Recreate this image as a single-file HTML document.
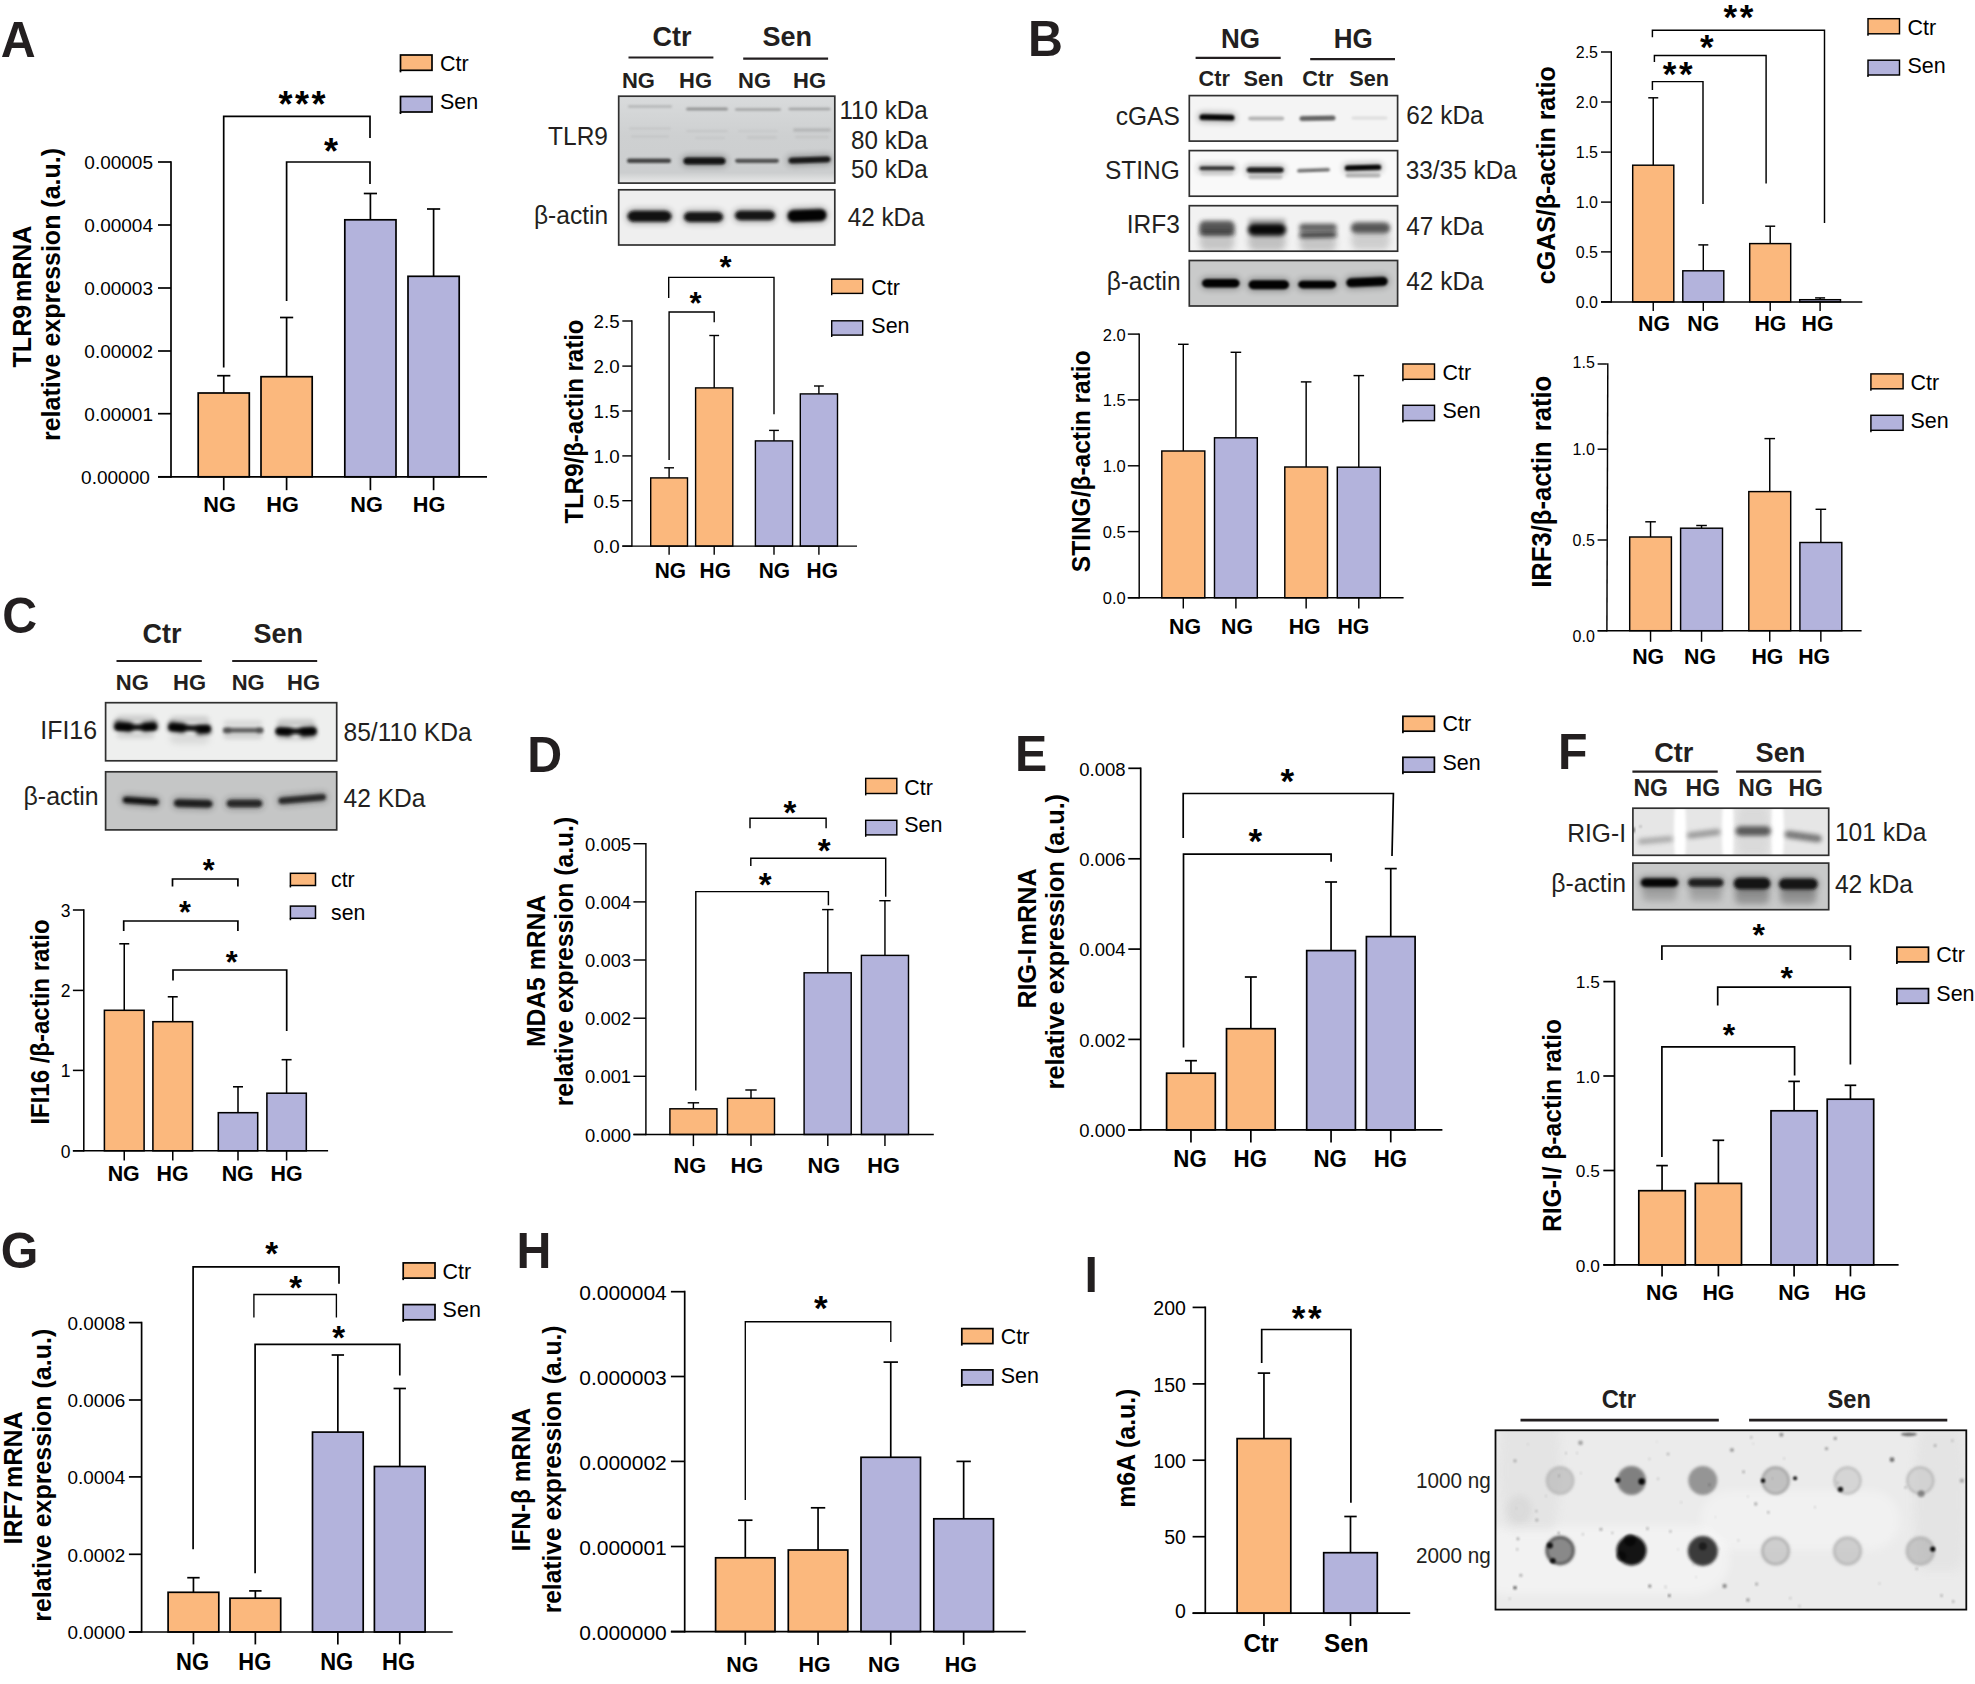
<!DOCTYPE html>
<html lang="en"><head><meta charset="utf-8"><title>Figure</title>
<style>
html,body{margin:0;padding:0;background:#fff;}
body{width:1975px;height:1684px;overflow:hidden;}
svg{display:block;font-family:'Liberation Sans', Arial, Helvetica, sans-serif;}
text{white-space:pre;}
</style></head><body>
<svg width="1975" height="1684" viewBox="0 0 1975 1684">
<defs><filter id="bl0_8" x="-30%" y="-150%" width="160%" height="400%"><feGaussianBlur stdDeviation="0.8"/></filter><filter id="bl1_2" x="-30%" y="-150%" width="160%" height="400%"><feGaussianBlur stdDeviation="1.2"/></filter><filter id="bl1_6" x="-30%" y="-150%" width="160%" height="400%"><feGaussianBlur stdDeviation="1.6"/></filter><filter id="bl2_2" x="-30%" y="-150%" width="160%" height="400%"><feGaussianBlur stdDeviation="2.2"/></filter><filter id="bl3" x="-30%" y="-150%" width="160%" height="400%"><feGaussianBlur stdDeviation="3"/></filter><filter id="bl4_5" x="-30%" y="-150%" width="160%" height="400%"><feGaussianBlur stdDeviation="4.5"/></filter></defs>
<rect width="1975" height="1684" fill="#fff"/>
<text transform="translate(0.7,57) scale(1,1.05)" font-size="48.3" font-weight="bold" fill="#231f20">A</text>
<rect x="400.5" y="55" width="31.5" height="15.3" fill="#fbb87d" stroke="#000" stroke-width="1.7"/>
<line x1="400.5" y1="70.3" x2="400.5" y2="72.35" stroke="#000" stroke-width="1.7"/>
<text transform="translate(440,70.5) scale(1,1.05)" font-size="21.5" fill="#000">Ctr</text>
<rect x="400.5" y="96.5" width="31.5" height="15.5" fill="#b3b3dc" stroke="#000" stroke-width="1.7"/>
<line x1="400.5" y1="112" x2="400.5" y2="114.05" stroke="#000" stroke-width="1.7"/>
<text transform="translate(440,109) scale(1,1.05)" font-size="21.5" fill="#000">Sen</text>
<line x1="223.75" y1="393" x2="223.75" y2="375.7" stroke="#000" stroke-width="1.7"/>
<line x1="217.15" y1="375.7" x2="230.35" y2="375.7" stroke="#000" stroke-width="1.7"/>
<rect x="198.2" y="393" width="51.1" height="83.8" fill="#fbb87d" stroke="#000" stroke-width="1.7"/>
<line x1="223.75" y1="476.8" x2="223.75" y2="490.2" stroke="#000" stroke-width="1.7"/>
<line x1="286.6" y1="376.7" x2="286.6" y2="317.5" stroke="#000" stroke-width="1.7"/>
<line x1="280" y1="317.5" x2="293.2" y2="317.5" stroke="#000" stroke-width="1.7"/>
<rect x="261" y="376.7" width="51.2" height="100.1" fill="#fbb87d" stroke="#000" stroke-width="1.7"/>
<line x1="286.6" y1="476.8" x2="286.6" y2="490.2" stroke="#000" stroke-width="1.7"/>
<line x1="370.4" y1="219.8" x2="370.4" y2="193.5" stroke="#000" stroke-width="1.7"/>
<line x1="363.8" y1="193.5" x2="377" y2="193.5" stroke="#000" stroke-width="1.7"/>
<rect x="344.8" y="219.8" width="51.2" height="257" fill="#b3b3dc" stroke="#000" stroke-width="1.7"/>
<line x1="370.4" y1="476.8" x2="370.4" y2="490.2" stroke="#000" stroke-width="1.7"/>
<line x1="433.6" y1="276.3" x2="433.6" y2="209" stroke="#000" stroke-width="1.7"/>
<line x1="427" y1="209" x2="440.2" y2="209" stroke="#000" stroke-width="1.7"/>
<rect x="408" y="276.3" width="51.2" height="200.5" fill="#b3b3dc" stroke="#000" stroke-width="1.7"/>
<line x1="433.6" y1="476.8" x2="433.6" y2="490.2" stroke="#000" stroke-width="1.7"/>
<line x1="171" y1="161.15" x2="171" y2="477.65" stroke="#000" stroke-width="1.7"/>
<line x1="158" y1="476.8" x2="487" y2="476.8" stroke="#000" stroke-width="1.7"/>
<line x1="158" y1="162" x2="171" y2="162" stroke="#000" stroke-width="1.7"/>
<text transform="translate(153,169.41)" font-size="19" text-anchor="end" fill="#000">0.00005</text>
<line x1="158" y1="225" x2="171" y2="225" stroke="#000" stroke-width="1.7"/>
<text transform="translate(153,232.41)" font-size="19" text-anchor="end" fill="#000">0.00004</text>
<line x1="158" y1="288" x2="171" y2="288" stroke="#000" stroke-width="1.7"/>
<text transform="translate(153,295.41)" font-size="19" text-anchor="end" fill="#000">0.00003</text>
<line x1="158" y1="351" x2="171" y2="351" stroke="#000" stroke-width="1.7"/>
<text transform="translate(153,358.41)" font-size="19" text-anchor="end" fill="#000">0.00002</text>
<line x1="158" y1="413.7" x2="171" y2="413.7" stroke="#000" stroke-width="1.7"/>
<text transform="translate(153,421.11)" font-size="19" text-anchor="end" fill="#000">0.00001</text>
<line x1="158" y1="476.8" x2="171" y2="476.8" stroke="#000" stroke-width="1.7"/>
<text transform="translate(149.8,484.21)" font-size="19" text-anchor="end" fill="#000">0.00000</text>
<text transform="translate(219.5,512.2) scale(1,1.05)" font-size="21.7" font-weight="bold" text-anchor="middle" fill="#000">NG</text>
<text transform="translate(282.5,512.2) scale(1,1.05)" font-size="21.7" font-weight="bold" text-anchor="middle" fill="#000">HG</text>
<text transform="translate(366.5,512.2) scale(1,1.05)" font-size="21.7" font-weight="bold" text-anchor="middle" fill="#000">NG</text>
<text transform="translate(429,512.2) scale(1,1.05)" font-size="21.7" font-weight="bold" text-anchor="middle" fill="#000">HG</text>
<path d="M223.7 367.4 V116.4 H370 V138" stroke="#000" stroke-width="1.7" fill="none"/>
<text transform="translate(303.3,116.68)" font-size="36" font-weight="bold" text-anchor="middle" fill="#000" letter-spacing="2.6">***</text>
<path d="M286.6 301 V162 H370 V184" stroke="#000" stroke-width="1.7" fill="none"/>
<text transform="translate(331,163.68)" font-size="36" font-weight="bold" text-anchor="middle" fill="#000">*</text>
<text transform="translate(30.5,296.5) rotate(-90) scale(1,1.05)" font-size="25" font-weight="bold" text-anchor="middle" fill="#000" word-spacing="-4">TLR9 mRNA</text>
<text transform="translate(60,294.5) rotate(-90) scale(1,1.05)" font-size="25" font-weight="bold" text-anchor="middle" fill="#000">relative expression (a.u.)</text>
<text transform="translate(672,45.7) scale(1,1.05)" font-size="27" font-weight="bold" text-anchor="middle" fill="#231f20">Ctr</text>
<text transform="translate(787.3,45.7) scale(1,1.05)" font-size="27" font-weight="bold" text-anchor="middle" fill="#231f20">Sen</text>
<line x1="628.5" y1="57.5" x2="713.4" y2="57.5" stroke="#231f20" stroke-width="2.2"/>
<line x1="743.2" y1="58.6" x2="828.1" y2="58.6" stroke="#231f20" stroke-width="2.2"/>
<text transform="translate(638.4,88)" font-size="22" font-weight="bold" text-anchor="middle" fill="#231f20">NG</text>
<text transform="translate(695.5,88)" font-size="22" font-weight="bold" text-anchor="middle" fill="#231f20">HG</text>
<text transform="translate(754.5,88)" font-size="22" font-weight="bold" text-anchor="middle" fill="#231f20">NG</text>
<text transform="translate(809.6,88)" font-size="22" font-weight="bold" text-anchor="middle" fill="#231f20">HG</text>
<linearGradient id="ga1" x1="0" y1="0" x2="0" y2="1"><stop offset="0" stop-color="#d9dbdc"/><stop offset="0.45" stop-color="#ced0d1"/><stop offset="0.88" stop-color="#cccecf"/><stop offset="0.97" stop-color="#e2e3e3"/><stop offset="1" stop-color="#ececec"/></linearGradient>
<clipPath id="ca1"><rect x="618.7" y="96.2" width="216.1" height="86.9"/></clipPath>
<rect x="618.7" y="96.2" width="216.1" height="86.9" fill="url(#ga1)"/>
<g clip-path="url(#ca1)">
<rect x="628" y="105.25" width="44" height="2.5" rx="1.5" ry="1.25" fill="#777" opacity="0.35" filter="url(#bl1_2)"/>
<rect x="686" y="107.5" width="42" height="3" rx="1.8" ry="1.5" fill="#555" opacity="0.5" filter="url(#bl1_2)"/>
<rect x="735" y="108.25" width="46" height="2.5" rx="1.5" ry="1.25" fill="#666" opacity="0.45" filter="url(#bl1_2)"/>
<rect x="788.5" y="107.75" width="42" height="2.5" rx="1.5" ry="1.25" fill="#666" opacity="0.45" filter="url(#bl1_2)"/>
<rect x="629" y="127.5" width="42" height="2" rx="1.2" ry="1" fill="#999" opacity="0.22" filter="url(#bl1_2)"/>
<rect x="631" y="135.5" width="38" height="2" rx="1.2" ry="1" fill="#999" opacity="0.2" filter="url(#bl1_2)"/>
<rect x="686" y="130" width="42" height="2" rx="1.2" ry="1" fill="#999" opacity="0.2" filter="url(#bl1_2)"/>
<rect x="695" y="137" width="30" height="2" rx="1.2" ry="1" fill="#999" opacity="0.15" filter="url(#bl1_2)"/>
<rect x="738" y="130" width="40" height="2" rx="1.2" ry="1" fill="#999" opacity="0.15" filter="url(#bl1_2)"/>
<rect x="747" y="136.25" width="30" height="2.5" rx="1.5" ry="1.25" fill="#999" opacity="0.2" filter="url(#bl1_2)"/>
<rect x="793" y="128.25" width="38" height="3.5" rx="2.1" ry="1.75" fill="#888" opacity="0.35" filter="url(#bl1_2)"/>
<rect x="795" y="135.75" width="34" height="2.5" rx="1.5" ry="1.25" fill="#999" opacity="0.2" filter="url(#bl1_2)"/>
<rect x="627" y="158.55" width="44" height="4.5" rx="2.7" ry="2.25" fill="#222" opacity="0.8" filter="url(#bl1_2)"/>
<rect x="682" y="155.5" width="45" height="11" rx="4.9" ry="5.5" fill="#0a0a0a" opacity="0.3" filter="url(#bl3)"/>
<rect x="683.5" y="157.5" width="42" height="7" rx="4.2" ry="3.5" fill="#0a0a0a" opacity="0.95" filter="url(#bl1_2)"/>
<rect x="735" y="158.7" width="44" height="4.2" rx="2.52" ry="2.1" fill="#2a2a2a" opacity="0.75" filter="url(#bl1_2)"/>
<rect x="787" y="155" width="45" height="10" rx="4.2" ry="5" fill="#111" opacity="0.3" filter="url(#bl3)" transform="rotate(-2 809.5 160)"/>
<rect x="788.5" y="157" width="42" height="6" rx="3.6" ry="3" fill="#111" opacity="0.9" filter="url(#bl1_2)" transform="rotate(-2 809.5 160)"/>
</g>
<rect x="618.7" y="96.2" width="216.1" height="86.9" fill="none" stroke="#303030" stroke-width="1.7"/>
<clipPath id="ca2"><rect x="618.7" y="189.8" width="216.1" height="55.2"/></clipPath>
<rect x="618.7" y="189.8" width="216.1" height="55.2" fill="#efefef"/>
<g clip-path="url(#ca2)">
<rect x="626" y="208.8" width="47" height="15" rx="7.7" ry="7.5" fill="#0a0a0a" opacity="0.3" filter="url(#bl3)"/>
<rect x="627.5" y="210.8" width="44" height="11" rx="6.6" ry="5.5" fill="#0a0a0a" opacity="0.97" filter="url(#bl1_6)"/>
<rect x="682.5" y="210" width="42" height="14" rx="7" ry="7" fill="#0a0a0a" opacity="0.3" filter="url(#bl3)"/>
<rect x="684" y="212" width="39" height="10" rx="5.85" ry="5" fill="#0a0a0a" opacity="0.95" filter="url(#bl1_6)"/>
<rect x="733.5" y="208.75" width="43" height="13.5" rx="6.65" ry="6.75" fill="#0a0a0a" opacity="0.3" filter="url(#bl3)"/>
<rect x="735" y="210.75" width="40" height="9.5" rx="5.7" ry="4.75" fill="#0a0a0a" opacity="0.95" filter="url(#bl1_6)"/>
<rect x="786" y="207.5" width="42" height="16" rx="8.4" ry="8" fill="#050505" opacity="0.3" filter="url(#bl3)" transform="rotate(-2 807 215.5)"/>
<rect x="787.5" y="209.5" width="39" height="12" rx="5.85" ry="6" fill="#050505" opacity="0.98" filter="url(#bl1_6)" transform="rotate(-2 807 215.5)"/>
</g>
<rect x="618.7" y="189.8" width="216.1" height="55.2" fill="none" stroke="#303030" stroke-width="1.7"/>
<text transform="translate(608,144.8) scale(1,1.05)" font-size="24.5" text-anchor="end" fill="#231f20">TLR9</text>
<text transform="translate(608,223.5) scale(1,1.05)" font-size="24.5" text-anchor="end" fill="#231f20">β-actin</text>
<text transform="translate(927.7,119.2) scale(1,1.05)" font-size="24.2" text-anchor="end" fill="#231f20">110 kDa</text>
<text transform="translate(927.7,149.3) scale(1,1.05)" font-size="24.2" text-anchor="end" fill="#231f20">80 kDa</text>
<text transform="translate(927.7,178.1) scale(1,1.05)" font-size="24.2" text-anchor="end" fill="#231f20">50 kDa</text>
<text transform="translate(924.4,225.5) scale(1,1.05)" font-size="24.2" text-anchor="end" fill="#231f20">42 kDa</text>
<line x1="669.1" y1="477.9" x2="669.1" y2="467.8" stroke="#000" stroke-width="1.4"/>
<line x1="664.2" y1="467.8" x2="674" y2="467.8" stroke="#000" stroke-width="1.4"/>
<rect x="650.7" y="477.9" width="36.8" height="68.2" fill="#fbb87d" stroke="#000" stroke-width="1.4"/>
<line x1="669.1" y1="546.1" x2="669.1" y2="554.8" stroke="#000" stroke-width="1.4"/>
<line x1="714.2" y1="387.9" x2="714.2" y2="335.5" stroke="#000" stroke-width="1.4"/>
<line x1="709.3" y1="335.5" x2="719.1" y2="335.5" stroke="#000" stroke-width="1.4"/>
<rect x="695.6" y="387.9" width="37.2" height="158.2" fill="#fbb87d" stroke="#000" stroke-width="1.4"/>
<line x1="714.2" y1="546.1" x2="714.2" y2="554.8" stroke="#000" stroke-width="1.4"/>
<line x1="774" y1="440.9" x2="774" y2="430.4" stroke="#000" stroke-width="1.4"/>
<line x1="769.1" y1="430.4" x2="778.9" y2="430.4" stroke="#000" stroke-width="1.4"/>
<rect x="755.4" y="440.9" width="37.2" height="105.2" fill="#b3b3dc" stroke="#000" stroke-width="1.4"/>
<line x1="774" y1="546.1" x2="774" y2="554.8" stroke="#000" stroke-width="1.4"/>
<line x1="818.9" y1="393.9" x2="818.9" y2="386" stroke="#000" stroke-width="1.4"/>
<line x1="814" y1="386" x2="823.8" y2="386" stroke="#000" stroke-width="1.4"/>
<rect x="800.3" y="393.9" width="37.2" height="152.2" fill="#b3b3dc" stroke="#000" stroke-width="1.4"/>
<line x1="818.9" y1="546.1" x2="818.9" y2="554.8" stroke="#000" stroke-width="1.4"/>
<line x1="631.9" y1="320.3" x2="631.9" y2="546.8" stroke="#000" stroke-width="1.4"/>
<line x1="622.3" y1="546.1" x2="857" y2="546.1" stroke="#000" stroke-width="1.4"/>
<line x1="622.3" y1="321" x2="631.9" y2="321" stroke="#000" stroke-width="1.4"/>
<text transform="translate(619.7,328.33)" font-size="18.8" text-anchor="end" fill="#000">2.5</text>
<line x1="622.3" y1="366.1" x2="631.9" y2="366.1" stroke="#000" stroke-width="1.4"/>
<text transform="translate(619.7,373.43)" font-size="18.8" text-anchor="end" fill="#000">2.0</text>
<line x1="622.3" y1="411" x2="631.9" y2="411" stroke="#000" stroke-width="1.4"/>
<text transform="translate(619.7,418.33)" font-size="18.8" text-anchor="end" fill="#000">1.5</text>
<line x1="622.3" y1="455.9" x2="631.9" y2="455.9" stroke="#000" stroke-width="1.4"/>
<text transform="translate(619.7,463.23)" font-size="18.8" text-anchor="end" fill="#000">1.0</text>
<line x1="622.3" y1="500.7" x2="631.9" y2="500.7" stroke="#000" stroke-width="1.4"/>
<text transform="translate(619.7,508.03)" font-size="18.8" text-anchor="end" fill="#000">0.5</text>
<line x1="622.3" y1="546.1" x2="631.9" y2="546.1" stroke="#000" stroke-width="1.4"/>
<text transform="translate(619.7,553.43)" font-size="18.8" text-anchor="end" fill="#000">0.0</text>
<text transform="translate(670.4,577.9) scale(1,1.05)" font-size="20.9" font-weight="bold" text-anchor="middle" fill="#000">NG</text>
<text transform="translate(715.2,577.9) scale(1,1.05)" font-size="20.9" font-weight="bold" text-anchor="middle" fill="#000">HG</text>
<text transform="translate(774.3,577.9) scale(1,1.05)" font-size="20.9" font-weight="bold" text-anchor="middle" fill="#000">NG</text>
<text transform="translate(822.2,577.9) scale(1,1.05)" font-size="20.9" font-weight="bold" text-anchor="middle" fill="#000">HG</text>
<path d="M668.7 298 V277.4 H774 V414.2" stroke="#000" stroke-width="1.4" fill="none"/>
<text transform="translate(725.5,278.03)" font-size="31" font-weight="bold" text-anchor="middle" fill="#000">*</text>
<path d="M669.1 460 V312 H714.2 V322.3" stroke="#000" stroke-width="1.4" fill="none"/>
<text transform="translate(695.6,313.93)" font-size="31" font-weight="bold" text-anchor="middle" fill="#000">*</text>
<rect x="831.7" y="279.1" width="31" height="14.3" fill="#fbb87d" stroke="#000" stroke-width="1.4"/>
<line x1="831.7" y1="293.4" x2="831.7" y2="295.3" stroke="#000" stroke-width="1.4"/>
<text transform="translate(871.3,294.5) scale(1,1.05)" font-size="21.5" fill="#000">Ctr</text>
<rect x="831.7" y="320.8" width="31" height="14.3" fill="#b3b3dc" stroke="#000" stroke-width="1.4"/>
<line x1="831.7" y1="335.1" x2="831.7" y2="337" stroke="#000" stroke-width="1.4"/>
<text transform="translate(871.3,333) scale(1,1.05)" font-size="21.5" fill="#000">Sen</text>
<text transform="translate(582.7,421.5) rotate(-90) scale(1,1.05)" font-size="24" font-weight="bold" text-anchor="middle" fill="#000">TLR9/β-actin ratio</text>
<text transform="translate(1028,56) scale(1,1.05)" font-size="48.3" font-weight="bold" fill="#231f20">B</text>
<text transform="translate(1240.5,48.2) scale(1,1.05)" font-size="26" font-weight="bold" text-anchor="middle" fill="#231f20">NG</text>
<text transform="translate(1353.2,48.2) scale(1,1.05)" font-size="26" font-weight="bold" text-anchor="middle" fill="#231f20">HG</text>
<line x1="1195.6" y1="57.9" x2="1280.7" y2="57.9" stroke="#231f20" stroke-width="2.2"/>
<line x1="1310.2" y1="59.2" x2="1395" y2="59.2" stroke="#231f20" stroke-width="2.2"/>
<text transform="translate(1214.2,85.6)" font-size="21.7" font-weight="bold" text-anchor="middle" fill="#231f20">Ctr</text>
<text transform="translate(1263.5,85.6)" font-size="21.7" font-weight="bold" text-anchor="middle" fill="#231f20">Sen</text>
<text transform="translate(1318,85.6)" font-size="21.7" font-weight="bold" text-anchor="middle" fill="#231f20">Ctr</text>
<text transform="translate(1369.2,85.6)" font-size="21.7" font-weight="bold" text-anchor="middle" fill="#231f20">Sen</text>
<clipPath id="cb1"><rect x="1189.3" y="95.6" width="208.3" height="45.5"/></clipPath>
<rect x="1189.3" y="95.6" width="208.3" height="45.5" fill="#f4f4f4"/>
<g clip-path="url(#cb1)">
<rect x="1198" y="112.5" width="38" height="9.8" rx="4.06" ry="4.9" fill="#050505" opacity="0.3" filter="url(#bl3)" transform="rotate(1.2 1217 117.4)"/>
<rect x="1199.5" y="114.5" width="35" height="5.8" rx="3.48" ry="2.9" fill="#050505" opacity="0.97" filter="url(#bl1_2)" transform="rotate(1.2 1217 117.4)"/>
<rect x="1248.2" y="116.6" width="36" height="4" rx="2.4" ry="2" fill="#8a8a8a" opacity="0.6" filter="url(#bl1_2)"/>
<rect x="1299.5" y="115.8" width="36" height="5" rx="3" ry="2.5" fill="#3a3a3a" opacity="0.78" filter="url(#bl1_2)" transform="rotate(-1 1317.5 118.3)"/>
<rect x="1351.5" y="116.5" width="36" height="3" rx="1.8" ry="1.5" fill="#aaa" opacity="0.3" filter="url(#bl1_2)"/>
</g>
<rect x="1189.3" y="95.6" width="208.3" height="45.5" fill="none" stroke="#303030" stroke-width="1.7"/>
<clipPath id="cb2"><rect x="1189.3" y="150.6" width="208.3" height="45.6"/></clipPath>
<rect x="1189.3" y="150.6" width="208.3" height="45.6" fill="#f9f9f9"/>
<g clip-path="url(#cb2)">
<rect x="1198" y="164.3" width="38" height="8" rx="2.8" ry="4" fill="#1a1a1a" opacity="0.3" filter="url(#bl3)"/>
<rect x="1199.5" y="166.3" width="35" height="4" rx="2.4" ry="2" fill="#1a1a1a" opacity="0.85" filter="url(#bl1_2)"/>
<rect x="1200.5" y="171.5" width="33" height="4" rx="2.4" ry="2" fill="#999" opacity="0.25" filter="url(#bl1_2)"/>
<rect x="1245.2" y="165.2" width="40" height="9.6" rx="3.92" ry="4.8" fill="#111" opacity="0.3" filter="url(#bl3)"/>
<rect x="1246.7" y="167.2" width="37" height="5.6" rx="3.36" ry="2.8" fill="#111" opacity="0.9" filter="url(#bl1_2)"/>
<rect x="1248.5" y="174.75" width="34" height="4.5" rx="2.7" ry="2.25" fill="#888" opacity="0.42" filter="url(#bl1_2)"/>
<rect x="1297" y="168.5" width="33" height="3.6" rx="2.16" ry="1.8" fill="#3a3a3a" opacity="0.72" filter="url(#bl1_2)" transform="rotate(-2 1313.5 170.3)"/>
<rect x="1343.25" y="163.1" width="39.5" height="9.2" rx="3.64" ry="4.6" fill="#050505" opacity="0.3" filter="url(#bl3)" transform="rotate(-1.5 1363 167.7)"/>
<rect x="1344.75" y="165.1" width="36.5" height="5.2" rx="3.12" ry="2.6" fill="#050505" opacity="0.96" filter="url(#bl1_2)" transform="rotate(-1.5 1363 167.7)"/>
<rect x="1345.5" y="173.5" width="35" height="4" rx="2.4" ry="2" fill="#777" opacity="0.5" filter="url(#bl1_2)"/>
</g>
<rect x="1189.3" y="150.6" width="208.3" height="45.6" fill="none" stroke="#303030" stroke-width="1.7"/>
<clipPath id="cb3"><rect x="1189.3" y="205.7" width="208.3" height="45.5"/></clipPath>
<rect x="1189.3" y="205.7" width="208.3" height="45.5" fill="#f2f2f2"/>
<g clip-path="url(#cb3)">
<rect x="1199.5" y="231" width="35" height="20" rx="5.25" ry="10" fill="#9a9a9a" opacity="0.5" filter="url(#bl3)"/>
<rect x="1248" y="231" width="38" height="20" rx="5.7" ry="10" fill="#9a9a9a" opacity="0.55" filter="url(#bl3)"/>
<rect x="1299.5" y="232" width="37" height="20" rx="5.55" ry="10" fill="#9a9a9a" opacity="0.5" filter="url(#bl3)"/>
<rect x="1351" y="230" width="39" height="20" rx="5.85" ry="10" fill="#9a9a9a" opacity="0.4" filter="url(#bl3)"/>
<rect x="1199" y="220.8" width="36" height="14" rx="5.4" ry="7" fill="#3c3c3c" opacity="0.86" filter="url(#bl2_2)"/>
<rect x="1199" y="231.45" width="36" height="3.5" rx="2.1" ry="1.75" fill="#1a1a1a" opacity="0.6" filter="url(#bl2_2)"/>
<rect x="1248" y="218.5" width="38" height="5" rx="3" ry="2.5" fill="#666" opacity="0.45" filter="url(#bl2_2)"/>
<rect x="1247.75" y="223.25" width="38.5" height="12.5" rx="5.77" ry="6.25" fill="#050505" opacity="0.96" filter="url(#bl2_2)"/>
<rect x="1299.25" y="223.8" width="37.5" height="7" rx="4.2" ry="3.5" fill="#3c3c3c" opacity="0.82" filter="url(#bl2_2)"/>
<rect x="1299.5" y="229" width="37" height="5" rx="3" ry="2.5" fill="#555" opacity="0.5" filter="url(#bl2_2)"/>
<rect x="1299.25" y="233.05" width="37.5" height="4.3" rx="2.58" ry="2.15" fill="#151515" opacity="0.88" filter="url(#bl2_2)" transform="rotate(-1 1318 235.2)"/>
<rect x="1350.75" y="222.3" width="39.5" height="11" rx="5.92" ry="5.5" fill="#3a3a3a" opacity="0.84" filter="url(#bl2_2)"/>
</g>
<rect x="1189.3" y="205.7" width="208.3" height="45.5" fill="none" stroke="#303030" stroke-width="1.7"/>
<clipPath id="cb4"><rect x="1189.3" y="260.5" width="208.3" height="45.5"/></clipPath>
<rect x="1189.3" y="260.5" width="208.3" height="45.5" fill="#c9caca"/>
<g clip-path="url(#cb4)">
<rect x="1200.55" y="277.05" width="40.5" height="12.5" rx="5.95" ry="6.25" fill="#030303" opacity="0.3" filter="url(#bl3)"/>
<rect x="1202.05" y="279.05" width="37.5" height="8.5" rx="5.1" ry="4.25" fill="#030303" opacity="0.98" filter="url(#bl1_2)"/>
<rect x="1247.05" y="278.3" width="43.5" height="13" rx="6.3" ry="6.5" fill="#030303" opacity="0.3" filter="url(#bl3)"/>
<rect x="1248.55" y="280.3" width="40.5" height="9" rx="5.4" ry="4.5" fill="#030303" opacity="0.98" filter="url(#bl1_2)"/>
<rect x="1296.7" y="278.7" width="41" height="11.8" rx="5.46" ry="5.9" fill="#030303" opacity="0.3" filter="url(#bl3)"/>
<rect x="1298.2" y="280.7" width="38" height="7.8" rx="4.68" ry="3.9" fill="#030303" opacity="0.98" filter="url(#bl1_2)"/>
<rect x="1344.75" y="275.5" width="44.5" height="13" rx="6.3" ry="6.5" fill="#030303" opacity="0.3" filter="url(#bl3)" transform="rotate(-2.5 1367 282)"/>
<rect x="1346.25" y="277.5" width="41.5" height="9" rx="5.4" ry="4.5" fill="#030303" opacity="0.98" filter="url(#bl1_2)" transform="rotate(-2.5 1367 282)"/>
</g>
<rect x="1189.3" y="260.5" width="208.3" height="45.5" fill="none" stroke="#303030" stroke-width="1.7"/>
<text transform="translate(1179.8,125) scale(1,1.05)" font-size="24.5" text-anchor="end" fill="#231f20">cGAS</text>
<text transform="translate(1179.8,178.5) scale(1,1.05)" font-size="24.5" text-anchor="end" fill="#231f20">STING</text>
<text transform="translate(1179.8,232.8) scale(1,1.05)" font-size="24.5" text-anchor="end" fill="#231f20">IRF3</text>
<text transform="translate(1180.6,290.4) scale(1,1.05)" font-size="24.5" text-anchor="end" fill="#231f20">β-actin</text>
<text transform="translate(1406.3,123.7) scale(1,1.05)" font-size="24.4" fill="#231f20">62 kDa</text>
<text transform="translate(1405.7,178.5) scale(1,1.05)" font-size="24.4" fill="#231f20">33/35 kDa</text>
<text transform="translate(1406.3,235.2) scale(1,1.05)" font-size="24.4" fill="#231f20">47 kDa</text>
<text transform="translate(1406.3,289.6) scale(1,1.05)" font-size="24.4" fill="#231f20">42 kDa</text>
<line x1="1653.25" y1="165.2" x2="1653.25" y2="97.8" stroke="#000" stroke-width="1.45"/>
<line x1="1648.25" y1="97.8" x2="1658.25" y2="97.8" stroke="#000" stroke-width="1.45"/>
<rect x="1632.7" y="165.2" width="41.1" height="136.7" fill="#fbb87d" stroke="#000" stroke-width="1.45"/>
<line x1="1653.25" y1="301.9" x2="1653.25" y2="311" stroke="#000" stroke-width="1.45"/>
<line x1="1703.3" y1="270.8" x2="1703.3" y2="244.9" stroke="#000" stroke-width="1.45"/>
<line x1="1698.3" y1="244.9" x2="1708.3" y2="244.9" stroke="#000" stroke-width="1.45"/>
<rect x="1682.8" y="270.8" width="41" height="31.1" fill="#b3b3dc" stroke="#000" stroke-width="1.45"/>
<line x1="1703.3" y1="301.9" x2="1703.3" y2="311" stroke="#000" stroke-width="1.45"/>
<line x1="1770.2" y1="243.6" x2="1770.2" y2="226.2" stroke="#000" stroke-width="1.45"/>
<line x1="1765.2" y1="226.2" x2="1775.2" y2="226.2" stroke="#000" stroke-width="1.45"/>
<rect x="1749.7" y="243.6" width="41" height="58.3" fill="#fbb87d" stroke="#000" stroke-width="1.45"/>
<line x1="1770.2" y1="301.9" x2="1770.2" y2="311" stroke="#000" stroke-width="1.45"/>
<line x1="1820.1" y1="299.7" x2="1820.1" y2="297.9" stroke="#000" stroke-width="1.45"/>
<line x1="1815.1" y1="297.9" x2="1825.1" y2="297.9" stroke="#000" stroke-width="1.45"/>
<rect x="1799.7" y="299.7" width="40.8" height="2.2" fill="#b3b3dc" stroke="#000" stroke-width="1.45"/>
<line x1="1820.1" y1="301.9" x2="1820.1" y2="311" stroke="#000" stroke-width="1.45"/>
<line x1="1611.3" y1="51.27" x2="1611.3" y2="302.62" stroke="#000" stroke-width="1.45"/>
<line x1="1601" y1="301.9" x2="1862.3" y2="301.9" stroke="#000" stroke-width="1.45"/>
<line x1="1601" y1="52" x2="1611.3" y2="52" stroke="#000" stroke-width="1.45"/>
<text transform="translate(1598,58.24)" font-size="16" text-anchor="end" fill="#000">2.5</text>
<line x1="1601" y1="102" x2="1611.3" y2="102" stroke="#000" stroke-width="1.45"/>
<text transform="translate(1598,108.24)" font-size="16" text-anchor="end" fill="#000">2.0</text>
<line x1="1601" y1="152.1" x2="1611.3" y2="152.1" stroke="#000" stroke-width="1.45"/>
<text transform="translate(1598,158.34)" font-size="16" text-anchor="end" fill="#000">1.5</text>
<line x1="1601" y1="202.1" x2="1611.3" y2="202.1" stroke="#000" stroke-width="1.45"/>
<text transform="translate(1598,208.34)" font-size="16" text-anchor="end" fill="#000">1.0</text>
<line x1="1601" y1="251.9" x2="1611.3" y2="251.9" stroke="#000" stroke-width="1.45"/>
<text transform="translate(1598,258.14)" font-size="16" text-anchor="end" fill="#000">0.5</text>
<line x1="1601" y1="301.9" x2="1611.3" y2="301.9" stroke="#000" stroke-width="1.45"/>
<text transform="translate(1598,308.14)" font-size="16" text-anchor="end" fill="#000">0.0</text>
<text transform="translate(1654,330.7) scale(1,1.05)" font-size="21.3" font-weight="bold" text-anchor="middle" fill="#000">NG</text>
<text transform="translate(1703.3,330.7) scale(1,1.05)" font-size="21.3" font-weight="bold" text-anchor="middle" fill="#000">NG</text>
<text transform="translate(1770.4,330.7) scale(1,1.05)" font-size="21.3" font-weight="bold" text-anchor="middle" fill="#000">HG</text>
<text transform="translate(1817.5,330.7) scale(1,1.05)" font-size="21.3" font-weight="bold" text-anchor="middle" fill="#000">HG</text>
<path d="M1652.4 37.2 V30.2 H1824.5 V223" stroke="#000" stroke-width="1.45" fill="none"/>
<text transform="translate(1739.7,29.25)" font-size="35" font-weight="bold" text-anchor="middle" fill="#000" letter-spacing="2.6">**</text>
<path d="M1654.4 62 V55.4 H1766.1 V183.6" stroke="#000" stroke-width="1.45" fill="none"/>
<text transform="translate(1706.9,59.05)" font-size="35" font-weight="bold" text-anchor="middle" fill="#000">*</text>
<path d="M1652.4 90.1 V81.6 H1703 V203.9" stroke="#000" stroke-width="1.45" fill="none"/>
<text transform="translate(1678.9,86.15)" font-size="35" font-weight="bold" text-anchor="middle" fill="#000" letter-spacing="2.6">**</text>
<rect x="1868" y="18.7" width="31.5" height="15.1" fill="#fbb87d" stroke="#000" stroke-width="1.45"/>
<line x1="1868" y1="33.8" x2="1868" y2="35.73" stroke="#000" stroke-width="1.45"/>
<text transform="translate(1907.4,34.5) scale(1,1.05)" font-size="21.5" fill="#000">Ctr</text>
<rect x="1868" y="60.2" width="31.5" height="14.8" fill="#b3b3dc" stroke="#000" stroke-width="1.45"/>
<line x1="1868" y1="75" x2="1868" y2="76.92" stroke="#000" stroke-width="1.45"/>
<text transform="translate(1907.4,72.8) scale(1,1.05)" font-size="21.5" fill="#000">Sen</text>
<text transform="translate(1554.8,175.2) rotate(-90) scale(1,1.05)" font-size="25" font-weight="bold" text-anchor="middle" fill="#000">cGAS/β-actin ratio</text>
<line x1="1183.3" y1="451" x2="1183.3" y2="344.3" stroke="#000" stroke-width="1.45"/>
<line x1="1178" y1="344.3" x2="1188.6" y2="344.3" stroke="#000" stroke-width="1.45"/>
<rect x="1161.8" y="451" width="43" height="146.8" fill="#fbb87d" stroke="#000" stroke-width="1.45"/>
<line x1="1183.3" y1="597.8" x2="1183.3" y2="608.5" stroke="#000" stroke-width="1.45"/>
<line x1="1235.9" y1="437.8" x2="1235.9" y2="352.3" stroke="#000" stroke-width="1.45"/>
<line x1="1230.6" y1="352.3" x2="1241.2" y2="352.3" stroke="#000" stroke-width="1.45"/>
<rect x="1214.5" y="437.8" width="42.8" height="160" fill="#b3b3dc" stroke="#000" stroke-width="1.45"/>
<line x1="1235.9" y1="597.8" x2="1235.9" y2="608.5" stroke="#000" stroke-width="1.45"/>
<line x1="1306.15" y1="467" x2="1306.15" y2="381.9" stroke="#000" stroke-width="1.45"/>
<line x1="1300.85" y1="381.9" x2="1311.45" y2="381.9" stroke="#000" stroke-width="1.45"/>
<rect x="1284.8" y="467" width="42.7" height="130.8" fill="#fbb87d" stroke="#000" stroke-width="1.45"/>
<line x1="1306.15" y1="597.8" x2="1306.15" y2="608.5" stroke="#000" stroke-width="1.45"/>
<line x1="1358.8" y1="467.2" x2="1358.8" y2="375.6" stroke="#000" stroke-width="1.45"/>
<line x1="1353.5" y1="375.6" x2="1364.1" y2="375.6" stroke="#000" stroke-width="1.45"/>
<rect x="1337.3" y="467.2" width="43" height="130.6" fill="#b3b3dc" stroke="#000" stroke-width="1.45"/>
<line x1="1358.8" y1="597.8" x2="1358.8" y2="608.5" stroke="#000" stroke-width="1.45"/>
<line x1="1139.2" y1="333.38" x2="1139.2" y2="598.52" stroke="#000" stroke-width="1.45"/>
<line x1="1127.8" y1="597.8" x2="1403.6" y2="597.8" stroke="#000" stroke-width="1.45"/>
<line x1="1127.8" y1="334.1" x2="1139.2" y2="334.1" stroke="#000" stroke-width="1.45"/>
<text transform="translate(1125.8,340.54)" font-size="16.5" text-anchor="end" fill="#000">2.0</text>
<line x1="1127.8" y1="399.9" x2="1139.2" y2="399.9" stroke="#000" stroke-width="1.45"/>
<text transform="translate(1125.8,406.33)" font-size="16.5" text-anchor="end" fill="#000">1.5</text>
<line x1="1127.8" y1="465.8" x2="1139.2" y2="465.8" stroke="#000" stroke-width="1.45"/>
<text transform="translate(1125.8,472.24)" font-size="16.5" text-anchor="end" fill="#000">1.0</text>
<line x1="1127.8" y1="531.6" x2="1139.2" y2="531.6" stroke="#000" stroke-width="1.45"/>
<text transform="translate(1125.8,538.03)" font-size="16.5" text-anchor="end" fill="#000">0.5</text>
<line x1="1127.8" y1="597.8" x2="1139.2" y2="597.8" stroke="#000" stroke-width="1.45"/>
<text transform="translate(1125.8,604.23)" font-size="16.5" text-anchor="end" fill="#000">0.0</text>
<text transform="translate(1185,634.2) scale(1,1.05)" font-size="21.3" font-weight="bold" text-anchor="middle" fill="#000">NG</text>
<text transform="translate(1237,634.2) scale(1,1.05)" font-size="21.3" font-weight="bold" text-anchor="middle" fill="#000">NG</text>
<text transform="translate(1304.6,634.2) scale(1,1.05)" font-size="21.3" font-weight="bold" text-anchor="middle" fill="#000">HG</text>
<text transform="translate(1353.4,634.2) scale(1,1.05)" font-size="21.3" font-weight="bold" text-anchor="middle" fill="#000">HG</text>
<rect x="1402.9" y="364" width="31.6" height="15.3" fill="#fbb87d" stroke="#000" stroke-width="1.45"/>
<line x1="1402.9" y1="379.3" x2="1402.9" y2="381.23" stroke="#000" stroke-width="1.45"/>
<text transform="translate(1442.5,379.8) scale(1,1.05)" font-size="21.5" fill="#000">Ctr</text>
<rect x="1402.9" y="405.3" width="31.6" height="15.3" fill="#b3b3dc" stroke="#000" stroke-width="1.45"/>
<line x1="1402.9" y1="420.6" x2="1402.9" y2="422.53" stroke="#000" stroke-width="1.45"/>
<text transform="translate(1442.5,417.7) scale(1,1.05)" font-size="21.5" fill="#000">Sen</text>
<text transform="translate(1089.6,461.3) rotate(-90) scale(1,1.05)" font-size="24.5" font-weight="bold" text-anchor="middle" fill="#000">STING/β-actin ratio</text>
<line x1="1650.55" y1="537" x2="1650.55" y2="521.8" stroke="#000" stroke-width="1.45"/>
<line x1="1645.25" y1="521.8" x2="1655.85" y2="521.8" stroke="#000" stroke-width="1.45"/>
<rect x="1629.7" y="537" width="41.7" height="93.7" fill="#fbb87d" stroke="#000" stroke-width="1.45"/>
<line x1="1650.55" y1="630.7" x2="1650.55" y2="641.8" stroke="#000" stroke-width="1.45"/>
<line x1="1701.55" y1="528.2" x2="1701.55" y2="525.5" stroke="#000" stroke-width="1.45"/>
<line x1="1696.25" y1="525.5" x2="1706.85" y2="525.5" stroke="#000" stroke-width="1.45"/>
<rect x="1680.6" y="528.2" width="41.9" height="102.5" fill="#b3b3dc" stroke="#000" stroke-width="1.45"/>
<line x1="1701.55" y1="630.7" x2="1701.55" y2="641.8" stroke="#000" stroke-width="1.45"/>
<line x1="1769.75" y1="491.6" x2="1769.75" y2="438.6" stroke="#000" stroke-width="1.45"/>
<line x1="1764.45" y1="438.6" x2="1775.05" y2="438.6" stroke="#000" stroke-width="1.45"/>
<rect x="1748.8" y="491.6" width="41.9" height="139.1" fill="#fbb87d" stroke="#000" stroke-width="1.45"/>
<line x1="1769.75" y1="630.7" x2="1769.75" y2="641.8" stroke="#000" stroke-width="1.45"/>
<line x1="1820.85" y1="542.5" x2="1820.85" y2="509.3" stroke="#000" stroke-width="1.45"/>
<line x1="1815.55" y1="509.3" x2="1826.15" y2="509.3" stroke="#000" stroke-width="1.45"/>
<rect x="1799.9" y="542.5" width="41.9" height="88.2" fill="#b3b3dc" stroke="#000" stroke-width="1.45"/>
<line x1="1820.85" y1="630.7" x2="1820.85" y2="641.8" stroke="#000" stroke-width="1.45"/>
<line x1="1607.8" y1="363.27" x2="1606.9" y2="631.43" stroke="#000" stroke-width="1.45"/>
<line x1="1597.6" y1="630.7" x2="1861.6" y2="630.7" stroke="#000" stroke-width="1.45"/>
<line x1="1597.6" y1="364" x2="1606.9" y2="364" stroke="#000" stroke-width="1.45"/>
<text transform="translate(1594.8,367.6)" font-size="16" text-anchor="end" fill="#000">1.5</text>
<line x1="1597.6" y1="449.2" x2="1606.9" y2="449.2" stroke="#000" stroke-width="1.45"/>
<text transform="translate(1594.8,455.2)" font-size="16" text-anchor="end" fill="#000">1.0</text>
<line x1="1597.6" y1="540" x2="1606.9" y2="540" stroke="#000" stroke-width="1.45"/>
<text transform="translate(1594.8,545.7)" font-size="16" text-anchor="end" fill="#000">0.5</text>
<line x1="1597.6" y1="630.7" x2="1606.9" y2="630.7" stroke="#000" stroke-width="1.45"/>
<text transform="translate(1594.8,642.3)" font-size="16" text-anchor="end" fill="#000">0.0</text>
<text transform="translate(1648.1,663.9) scale(1,1.05)" font-size="21.3" font-weight="bold" text-anchor="middle" fill="#000">NG</text>
<text transform="translate(1700,663.9) scale(1,1.05)" font-size="21.3" font-weight="bold" text-anchor="middle" fill="#000">NG</text>
<text transform="translate(1767.4,663.9) scale(1,1.05)" font-size="21.3" font-weight="bold" text-anchor="middle" fill="#000">HG</text>
<text transform="translate(1814.2,663.9) scale(1,1.05)" font-size="21.3" font-weight="bold" text-anchor="middle" fill="#000">HG</text>
<rect x="1870.9" y="373.9" width="32.2" height="14.9" fill="#fbb87d" stroke="#000" stroke-width="1.45"/>
<line x1="1870.9" y1="388.8" x2="1870.9" y2="390.73" stroke="#000" stroke-width="1.45"/>
<text transform="translate(1910.5,389.5) scale(1,1.05)" font-size="21.5" fill="#000">Ctr</text>
<rect x="1870.9" y="415.3" width="32.2" height="15" fill="#b3b3dc" stroke="#000" stroke-width="1.45"/>
<line x1="1870.9" y1="430.3" x2="1870.9" y2="432.23" stroke="#000" stroke-width="1.45"/>
<text transform="translate(1910.5,427.5) scale(1,1.05)" font-size="21.5" fill="#000">Sen</text>
<text transform="translate(1550.6,481.8) rotate(-90) scale(1,1.05)" font-size="25.6" font-weight="bold" text-anchor="middle" fill="#000" word-spacing="3">IRF3/β-actin ratio</text>
<text transform="translate(2.3,632.9) scale(1,1.05)" font-size="48.3" font-weight="bold" fill="#231f20">C</text>
<text transform="translate(162,642.8) scale(1,1.05)" font-size="27" font-weight="bold" text-anchor="middle" fill="#231f20">Ctr</text>
<text transform="translate(278.2,642.8) scale(1,1.05)" font-size="27" font-weight="bold" text-anchor="middle" fill="#231f20">Sen</text>
<line x1="116.5" y1="661" x2="201.8" y2="661" stroke="#231f20" stroke-width="2.2"/>
<line x1="232.2" y1="661" x2="317.2" y2="661" stroke="#231f20" stroke-width="2.2"/>
<text transform="translate(132.3,689.6)" font-size="22" font-weight="bold" text-anchor="middle" fill="#231f20">NG</text>
<text transform="translate(189.6,689.6)" font-size="22" font-weight="bold" text-anchor="middle" fill="#231f20">HG</text>
<text transform="translate(248.2,689.6)" font-size="22" font-weight="bold" text-anchor="middle" fill="#231f20">NG</text>
<text transform="translate(303.5,689.6)" font-size="22" font-weight="bold" text-anchor="middle" fill="#231f20">HG</text>
<clipPath id="cc1"><rect x="105.6" y="702.7" width="231.1" height="58.1"/></clipPath>
<rect x="105.6" y="702.7" width="231.1" height="58.1" fill="#eeefee"/>
<g clip-path="url(#cc1)">
<rect x="115.7" y="715" width="40" height="9" rx="5.4" ry="4.5" fill="#888" opacity="0.3" filter="url(#bl2_2)"/>
<rect x="169.6" y="716" width="40" height="9" rx="5.4" ry="4.5" fill="#888" opacity="0.3" filter="url(#bl2_2)"/>
<rect x="223.5" y="720" width="39" height="7" rx="4.2" ry="3.5" fill="#aaa" opacity="0.3" filter="url(#bl2_2)"/>
<rect x="277" y="719" width="38" height="8" rx="4.8" ry="4" fill="#888" opacity="0.35" filter="url(#bl2_2)"/>
<rect x="116.7" y="731.5" width="38" height="7" rx="4.2" ry="3.5" fill="#999" opacity="0.3" filter="url(#bl2_2)"/>
<rect x="169.6" y="732" width="40" height="12" rx="6" ry="6" fill="#aaa" opacity="0.3" filter="url(#bl3)"/>
<rect x="223.5" y="733" width="39" height="6" rx="3.6" ry="3" fill="#999" opacity="0.35" filter="url(#bl2_2)"/>
<rect x="277" y="735.5" width="38" height="5" rx="3" ry="2.5" fill="#999" opacity="0.3" filter="url(#bl2_2)"/>
<rect x="114.95" y="724.3" width="41.5" height="6" rx="3.6" ry="3" fill="#0a0a0a" opacity="0.93" filter="url(#bl1_6)"/>
<rect x="114" y="721.55" width="19" height="9.5" rx="2.85" ry="4.75" fill="#050505" opacity="0.9" filter="url(#bl2_2)" transform="rotate(8 123.5 726.3)"/>
<rect x="141.5" y="721.8" width="16" height="9" rx="2.4" ry="4.5" fill="#050505" opacity="0.9" filter="url(#bl2_2)" transform="rotate(-8 149.5 726.3)"/>
<rect x="168.85" y="725" width="41.5" height="6" rx="3.6" ry="3" fill="#0a0a0a" opacity="0.93" filter="url(#bl1_6)" transform="rotate(2 189.6 728)"/>
<rect x="168" y="722.55" width="18" height="9.5" rx="2.7" ry="4.75" fill="#050505" opacity="0.9" filter="url(#bl2_2)" transform="rotate(8 177 727.3)"/>
<rect x="196" y="725.3" width="15" height="9" rx="2.25" ry="4.5" fill="#050505" opacity="0.9" filter="url(#bl2_2)" transform="rotate(-6 203.5 729.8)"/>
<rect x="223.2" y="727.8" width="40" height="5" rx="3" ry="2.5" fill="#333" opacity="0.75" filter="url(#bl1_6)"/>
<rect x="223" y="727.5" width="8" height="6" rx="1.2" ry="3" fill="#333" opacity="0.4" filter="url(#bl1_6)"/>
<rect x="256.5" y="727.5" width="7" height="6" rx="1.05" ry="3" fill="#333" opacity="0.4" filter="url(#bl1_6)"/>
<rect x="275.75" y="728.3" width="40.5" height="6" rx="3.6" ry="3" fill="#0a0a0a" opacity="0.93" filter="url(#bl1_6)"/>
<rect x="276" y="727.55" width="16" height="8.5" rx="2.4" ry="4.25" fill="#050505" opacity="0.9" filter="url(#bl2_2)" transform="rotate(6 284 731.8)"/>
<rect x="299.5" y="727.05" width="17" height="9.5" rx="2.55" ry="4.75" fill="#050505" opacity="0.9" filter="url(#bl2_2)" transform="rotate(-6 308 731.8)"/>
</g>
<rect x="105.6" y="702.7" width="231.1" height="58.1" fill="none" stroke="#303030" stroke-width="1.7"/>
<clipPath id="cc2"><rect x="105.6" y="771.8" width="231.1" height="58.1"/></clipPath>
<rect x="105.6" y="771.8" width="231.1" height="58.1" fill="#c5c6c6"/>
<g clip-path="url(#cc2)">
<rect x="121.3" y="795.75" width="39" height="10.5" rx="4.55" ry="5.25" fill="#0c0c0c" opacity="0.3" filter="url(#bl3)" transform="rotate(4 140.8 801)"/>
<rect x="122.8" y="797.75" width="36" height="6.5" rx="3.9" ry="3.25" fill="#0c0c0c" opacity="0.95" filter="url(#bl1_6)" transform="rotate(4 140.8 801)"/>
<rect x="172.45" y="797.65" width="41.5" height="11.7" rx="5.39" ry="5.85" fill="#141414" opacity="0.3" filter="url(#bl3)" transform="rotate(1.5 193.2 803.5)"/>
<rect x="173.95" y="799.65" width="38.5" height="7.7" rx="4.62" ry="3.85" fill="#141414" opacity="0.93" filter="url(#bl1_6)" transform="rotate(1.5 193.2 803.5)"/>
<rect x="225.25" y="797.65" width="38.5" height="11.7" rx="5.39" ry="5.85" fill="#1a1a1a" opacity="0.3" filter="url(#bl3)"/>
<rect x="226.75" y="799.65" width="35.5" height="7.7" rx="4.62" ry="3.85" fill="#1a1a1a" opacity="0.9" filter="url(#bl1_6)"/>
<rect x="276.95" y="793.75" width="50.5" height="10.5" rx="4.55" ry="5.25" fill="#1a1a1a" opacity="0.3" filter="url(#bl3)" transform="rotate(-5 302.2 799)"/>
<rect x="278.45" y="795.75" width="47.5" height="6.5" rx="3.9" ry="3.25" fill="#1a1a1a" opacity="0.9" filter="url(#bl1_6)" transform="rotate(-5 302.2 799)"/>
</g>
<rect x="105.6" y="771.8" width="231.1" height="58.1" fill="none" stroke="#303030" stroke-width="1.7"/>
<text transform="translate(97,738.5) scale(1,1.05)" font-size="24.9" text-anchor="end" fill="#231f20">IFI16</text>
<text transform="translate(98.7,804.8) scale(1,1.05)" font-size="24.9" text-anchor="end" fill="#231f20">β-actin</text>
<text transform="translate(343.5,740.8) scale(1,1.05)" font-size="24.6" fill="#231f20">85/110 KDa</text>
<text transform="translate(343.5,807) scale(1,1.05)" font-size="24.6" fill="#231f20">42 KDa</text>
<line x1="124.25" y1="1010.3" x2="124.25" y2="943.8" stroke="#000" stroke-width="1.55"/>
<line x1="119.25" y1="943.8" x2="129.25" y2="943.8" stroke="#000" stroke-width="1.55"/>
<rect x="104.4" y="1010.3" width="39.7" height="140.5" fill="#fbb87d" stroke="#000" stroke-width="1.55"/>
<line x1="124.25" y1="1150.8" x2="124.25" y2="1160.5" stroke="#000" stroke-width="1.55"/>
<line x1="172.75" y1="1021.7" x2="172.75" y2="996.8" stroke="#000" stroke-width="1.55"/>
<line x1="167.75" y1="996.8" x2="177.75" y2="996.8" stroke="#000" stroke-width="1.55"/>
<rect x="152.9" y="1021.7" width="39.7" height="129.1" fill="#fbb87d" stroke="#000" stroke-width="1.55"/>
<line x1="172.75" y1="1150.8" x2="172.75" y2="1160.5" stroke="#000" stroke-width="1.55"/>
<line x1="238" y1="1112.7" x2="238" y2="1086.8" stroke="#000" stroke-width="1.55"/>
<line x1="233" y1="1086.8" x2="243" y2="1086.8" stroke="#000" stroke-width="1.55"/>
<rect x="218.3" y="1112.7" width="39.4" height="38.1" fill="#b3b3dc" stroke="#000" stroke-width="1.55"/>
<line x1="238" y1="1150.8" x2="238" y2="1160.5" stroke="#000" stroke-width="1.55"/>
<line x1="286.6" y1="1093.2" x2="286.6" y2="1059.7" stroke="#000" stroke-width="1.55"/>
<line x1="281.6" y1="1059.7" x2="291.6" y2="1059.7" stroke="#000" stroke-width="1.55"/>
<rect x="266.9" y="1093.2" width="39.4" height="57.6" fill="#b3b3dc" stroke="#000" stroke-width="1.55"/>
<line x1="286.6" y1="1150.8" x2="286.6" y2="1160.5" stroke="#000" stroke-width="1.55"/>
<line x1="83.8" y1="909.23" x2="83.8" y2="1151.58" stroke="#000" stroke-width="1.55"/>
<line x1="72.9" y1="1150.8" x2="328.1" y2="1150.8" stroke="#000" stroke-width="1.55"/>
<line x1="72.9" y1="910" x2="83.8" y2="910" stroke="#000" stroke-width="1.55"/>
<text transform="translate(70.5,916.83)" font-size="17.5" text-anchor="end" fill="#000">3</text>
<line x1="72.9" y1="990.4" x2="83.8" y2="990.4" stroke="#000" stroke-width="1.55"/>
<text transform="translate(70.5,997.23)" font-size="17.5" text-anchor="end" fill="#000">2</text>
<line x1="72.9" y1="1070.4" x2="83.8" y2="1070.4" stroke="#000" stroke-width="1.55"/>
<text transform="translate(70.5,1077.23)" font-size="17.5" text-anchor="end" fill="#000">1</text>
<line x1="72.9" y1="1150.8" x2="83.8" y2="1150.8" stroke="#000" stroke-width="1.55"/>
<text transform="translate(70.5,1157.62)" font-size="17.5" text-anchor="end" fill="#000">0</text>
<text transform="translate(123.7,1181.2) scale(1,1.05)" font-size="21.4" font-weight="bold" text-anchor="middle" fill="#000">NG</text>
<text transform="translate(172.5,1181.2) scale(1,1.05)" font-size="21.4" font-weight="bold" text-anchor="middle" fill="#000">HG</text>
<text transform="translate(237.7,1181.2) scale(1,1.05)" font-size="21.4" font-weight="bold" text-anchor="middle" fill="#000">NG</text>
<text transform="translate(286.5,1181.2) scale(1,1.05)" font-size="21.4" font-weight="bold" text-anchor="middle" fill="#000">HG</text>
<path d="M172.5 886.5 V879 H237.9 V886.5" stroke="#000" stroke-width="1.7" fill="none"/>
<text transform="translate(208.7,880.82)" font-size="30.5" font-weight="bold" text-anchor="middle" fill="#000">*</text>
<path d="M123.7 931 V921 H237.9 V931" stroke="#000" stroke-width="1.7" fill="none"/>
<text transform="translate(184.9,922.62)" font-size="30.5" font-weight="bold" text-anchor="middle" fill="#000">*</text>
<path d="M173 980.5 V970 H286.7 V1031" stroke="#000" stroke-width="1.7" fill="none"/>
<text transform="translate(231.6,973.32)" font-size="30.5" font-weight="bold" text-anchor="middle" fill="#000">*</text>
<rect x="290.4" y="873.3" width="25.1" height="12.2" fill="#fbb87d" stroke="#000" stroke-width="1.5"/>
<line x1="290.4" y1="885.5" x2="290.4" y2="887.45" stroke="#000" stroke-width="1.5"/>
<text transform="translate(331,886.7) scale(1,1.05)" font-size="21.3" fill="#000">ctr</text>
<rect x="290.4" y="906.1" width="25.1" height="12.2" fill="#b3b3dc" stroke="#000" stroke-width="1.5"/>
<line x1="290.4" y1="918.3" x2="290.4" y2="920.25" stroke="#000" stroke-width="1.5"/>
<text transform="translate(331,919.5) scale(1,1.05)" font-size="21.3" fill="#000">sen</text>
<text transform="translate(48.5,1022) rotate(-90) scale(1,1.05)" font-size="24" font-weight="bold" text-anchor="middle" fill="#000">IFI16 /β-actin ratio</text>
<text transform="translate(527.3,772.2) scale(1,1.05)" font-size="48.3" font-weight="bold" fill="#231f20">D</text>
<line x1="693.4" y1="1108.8" x2="693.4" y2="1102.8" stroke="#000" stroke-width="1.45"/>
<line x1="687.7" y1="1102.8" x2="699.1" y2="1102.8" stroke="#000" stroke-width="1.45"/>
<rect x="669.9" y="1108.8" width="47" height="25.7" fill="#fbb87d" stroke="#000" stroke-width="1.45"/>
<line x1="693.4" y1="1134.5" x2="693.4" y2="1146.1" stroke="#000" stroke-width="1.45"/>
<line x1="751" y1="1098.3" x2="751" y2="1090" stroke="#000" stroke-width="1.45"/>
<line x1="745.3" y1="1090" x2="756.7" y2="1090" stroke="#000" stroke-width="1.45"/>
<rect x="727.5" y="1098.3" width="47" height="36.2" fill="#fbb87d" stroke="#000" stroke-width="1.45"/>
<line x1="751" y1="1134.5" x2="751" y2="1146.1" stroke="#000" stroke-width="1.45"/>
<line x1="827.8" y1="972.8" x2="827.8" y2="909.6" stroke="#000" stroke-width="1.45"/>
<line x1="822.1" y1="909.6" x2="833.5" y2="909.6" stroke="#000" stroke-width="1.45"/>
<rect x="804.1" y="972.8" width="47.1" height="161.7" fill="#b3b3dc" stroke="#000" stroke-width="1.45"/>
<line x1="827.8" y1="1134.5" x2="827.8" y2="1146.1" stroke="#000" stroke-width="1.45"/>
<line x1="884.95" y1="955.4" x2="884.95" y2="900.7" stroke="#000" stroke-width="1.45"/>
<line x1="879.25" y1="900.7" x2="890.65" y2="900.7" stroke="#000" stroke-width="1.45"/>
<rect x="861.4" y="955.4" width="47.1" height="179.1" fill="#b3b3dc" stroke="#000" stroke-width="1.45"/>
<line x1="884.95" y1="1134.5" x2="884.95" y2="1146.1" stroke="#000" stroke-width="1.45"/>
<line x1="645.9" y1="842.98" x2="645.9" y2="1135.22" stroke="#000" stroke-width="1.45"/>
<line x1="633.4" y1="1134.5" x2="933.8" y2="1134.5" stroke="#000" stroke-width="1.45"/>
<line x1="633.4" y1="843.7" x2="645.9" y2="843.7" stroke="#000" stroke-width="1.45"/>
<text transform="translate(631.1,850.88)" font-size="18.4" text-anchor="end" fill="#000">0.005</text>
<line x1="633.4" y1="901.9" x2="645.9" y2="901.9" stroke="#000" stroke-width="1.45"/>
<text transform="translate(631.1,909.08)" font-size="18.4" text-anchor="end" fill="#000">0.004</text>
<line x1="633.4" y1="960" x2="645.9" y2="960" stroke="#000" stroke-width="1.45"/>
<text transform="translate(631.1,967.18)" font-size="18.4" text-anchor="end" fill="#000">0.003</text>
<line x1="633.4" y1="1018.2" x2="645.9" y2="1018.2" stroke="#000" stroke-width="1.45"/>
<text transform="translate(631.1,1025.38)" font-size="18.4" text-anchor="end" fill="#000">0.002</text>
<line x1="633.4" y1="1076.3" x2="645.9" y2="1076.3" stroke="#000" stroke-width="1.45"/>
<text transform="translate(631.1,1083.48)" font-size="18.4" text-anchor="end" fill="#000">0.001</text>
<line x1="633.4" y1="1134.5" x2="645.9" y2="1134.5" stroke="#000" stroke-width="1.45"/>
<text transform="translate(631.1,1141.68)" font-size="18.4" text-anchor="end" fill="#000">0.000</text>
<text transform="translate(689.8,1173.2) scale(1,1.05)" font-size="21.8" font-weight="bold" text-anchor="middle" fill="#000">NG</text>
<text transform="translate(746.9,1173.2) scale(1,1.05)" font-size="21.8" font-weight="bold" text-anchor="middle" fill="#000">HG</text>
<text transform="translate(823.8,1173.2) scale(1,1.05)" font-size="21.8" font-weight="bold" text-anchor="middle" fill="#000">NG</text>
<text transform="translate(883.7,1173.2) scale(1,1.05)" font-size="21.8" font-weight="bold" text-anchor="middle" fill="#000">HG</text>
<path d="M750 828.3 V818.3 H826.1 V828.3" stroke="#000" stroke-width="1.45" fill="none"/>
<text transform="translate(789.9,823.79)" font-size="33" font-weight="bold" text-anchor="middle" fill="#000">*</text>
<path d="M750.8 865.9 V858.2 H885.7 V896.7" stroke="#000" stroke-width="1.45" fill="none"/>
<text transform="translate(824.1,862.19)" font-size="33" font-weight="bold" text-anchor="middle" fill="#000">*</text>
<path d="M695.8 1090.6 V891.6 H828.4 V905.3" stroke="#000" stroke-width="1.45" fill="none"/>
<text transform="translate(765.1,896.39)" font-size="33" font-weight="bold" text-anchor="middle" fill="#000">*</text>
<rect x="865.7" y="778.4" width="31.1" height="15.1" fill="#fbb87d" stroke="#000" stroke-width="1.45"/>
<line x1="865.7" y1="793.5" x2="865.7" y2="795.43" stroke="#000" stroke-width="1.45"/>
<text transform="translate(904.2,794.7) scale(1,1.05)" font-size="21.5" fill="#000">Ctr</text>
<rect x="865.7" y="820.3" width="31.1" height="14.6" fill="#b3b3dc" stroke="#000" stroke-width="1.45"/>
<line x1="865.7" y1="834.9" x2="865.7" y2="836.83" stroke="#000" stroke-width="1.45"/>
<text transform="translate(904.2,832) scale(1,1.05)" font-size="21.5" fill="#000">Sen</text>
<text transform="translate(545,971) rotate(-90) scale(1,1.05)" font-size="24.7" font-weight="bold" text-anchor="middle" fill="#000">MDA5 mRNA</text>
<text transform="translate(572.7,961.6) rotate(-90) scale(1,1.05)" font-size="24.7" font-weight="bold" text-anchor="middle" fill="#000">relative expression (a.u.)</text>
<text transform="translate(1015,771.3) scale(1,1.05)" font-size="48.3" font-weight="bold" fill="#231f20">E</text>
<line x1="1190.95" y1="1073.2" x2="1190.95" y2="1060.7" stroke="#000" stroke-width="1.7"/>
<line x1="1184.95" y1="1060.7" x2="1196.95" y2="1060.7" stroke="#000" stroke-width="1.7"/>
<rect x="1166.6" y="1073.2" width="48.7" height="56.7" fill="#fbb87d" stroke="#000" stroke-width="1.7"/>
<line x1="1190.95" y1="1129.9" x2="1190.95" y2="1142.4" stroke="#000" stroke-width="1.7"/>
<line x1="1250.85" y1="1028.7" x2="1250.85" y2="977" stroke="#000" stroke-width="1.7"/>
<line x1="1244.85" y1="977" x2="1256.85" y2="977" stroke="#000" stroke-width="1.7"/>
<rect x="1226.5" y="1028.7" width="48.7" height="101.2" fill="#fbb87d" stroke="#000" stroke-width="1.7"/>
<line x1="1250.85" y1="1129.9" x2="1250.85" y2="1142.4" stroke="#000" stroke-width="1.7"/>
<line x1="1331.05" y1="950.6" x2="1331.05" y2="882" stroke="#000" stroke-width="1.7"/>
<line x1="1325.05" y1="882" x2="1337.05" y2="882" stroke="#000" stroke-width="1.7"/>
<rect x="1306.7" y="950.6" width="48.7" height="179.3" fill="#b3b3dc" stroke="#000" stroke-width="1.7"/>
<line x1="1331.05" y1="1129.9" x2="1331.05" y2="1142.4" stroke="#000" stroke-width="1.7"/>
<line x1="1390.75" y1="936.6" x2="1390.75" y2="868.6" stroke="#000" stroke-width="1.7"/>
<line x1="1384.75" y1="868.6" x2="1396.75" y2="868.6" stroke="#000" stroke-width="1.7"/>
<rect x="1366.4" y="936.6" width="48.7" height="193.3" fill="#b3b3dc" stroke="#000" stroke-width="1.7"/>
<line x1="1390.75" y1="1129.9" x2="1390.75" y2="1142.4" stroke="#000" stroke-width="1.7"/>
<line x1="1140.7" y1="767.45" x2="1140.7" y2="1130.75" stroke="#000" stroke-width="1.7"/>
<line x1="1128.3" y1="1129.9" x2="1442.4" y2="1129.9" stroke="#000" stroke-width="1.7"/>
<line x1="1128.3" y1="768.3" x2="1140.7" y2="768.3" stroke="#000" stroke-width="1.7"/>
<text transform="translate(1125.6,775.51)" font-size="18.5" text-anchor="end" fill="#000">0.008</text>
<line x1="1128.3" y1="858.8" x2="1140.7" y2="858.8" stroke="#000" stroke-width="1.7"/>
<text transform="translate(1125.6,866.01)" font-size="18.5" text-anchor="end" fill="#000">0.006</text>
<line x1="1128.3" y1="949.1" x2="1140.7" y2="949.1" stroke="#000" stroke-width="1.7"/>
<text transform="translate(1125.6,956.32)" font-size="18.5" text-anchor="end" fill="#000">0.004</text>
<line x1="1128.3" y1="1039.4" x2="1140.7" y2="1039.4" stroke="#000" stroke-width="1.7"/>
<text transform="translate(1125.6,1046.62)" font-size="18.5" text-anchor="end" fill="#000">0.002</text>
<line x1="1128.3" y1="1129.9" x2="1140.7" y2="1129.9" stroke="#000" stroke-width="1.7"/>
<text transform="translate(1125.6,1137.12)" font-size="18.5" text-anchor="end" fill="#000">0.000</text>
<text transform="translate(1190,1166.5) scale(1,1.05)" font-size="22.3" font-weight="bold" text-anchor="middle" fill="#000">NG</text>
<text transform="translate(1250.3,1166.5) scale(1,1.05)" font-size="22.3" font-weight="bold" text-anchor="middle" fill="#000">HG</text>
<text transform="translate(1330.2,1166.5) scale(1,1.05)" font-size="22.3" font-weight="bold" text-anchor="middle" fill="#000">NG</text>
<text transform="translate(1390.4,1166.5) scale(1,1.05)" font-size="22.3" font-weight="bold" text-anchor="middle" fill="#000">HG</text>
<path d="M1183.2 838.1 V793.5 H1393.4 L1392 855.9" stroke="#000" stroke-width="1.7" fill="none"/>
<text transform="translate(1287.4,793.45)" font-size="35" font-weight="bold" text-anchor="middle" fill="#000">*</text>
<path d="M1183.5 1047.4 V854.1 H1331.1 V861.8" stroke="#000" stroke-width="1.7" fill="none"/>
<text transform="translate(1255.3,853.45)" font-size="35" font-weight="bold" text-anchor="middle" fill="#000">*</text>
<rect x="1402.9" y="716.3" width="31.5" height="14.9" fill="#fbb87d" stroke="#000" stroke-width="1.7"/>
<line x1="1402.9" y1="731.2" x2="1402.9" y2="733.25" stroke="#000" stroke-width="1.7"/>
<text transform="translate(1442.4,731.2) scale(1,1.05)" font-size="21.5" fill="#000">Ctr</text>
<rect x="1402.9" y="757.3" width="31.5" height="14.8" fill="#b3b3dc" stroke="#000" stroke-width="1.7"/>
<line x1="1402.9" y1="772.1" x2="1402.9" y2="774.15" stroke="#000" stroke-width="1.7"/>
<text transform="translate(1442.4,769.8) scale(1,1.05)" font-size="21.5" fill="#000">Sen</text>
<text transform="translate(1036.2,938.5) rotate(-90) scale(1,1.05)" font-size="25.2" font-weight="bold" text-anchor="middle" fill="#000" word-spacing="-4">RIG-I mRNA</text>
<text transform="translate(1063.8,941.7) rotate(-90) scale(1,1.05)" font-size="25.2" font-weight="bold" text-anchor="middle" fill="#000">relative expression (a.u.)</text>
<text transform="translate(1558,769.4) scale(1,1.05)" font-size="48.3" font-weight="bold" fill="#231f20">F</text>
<text transform="translate(1673.8,761.8) scale(1,1.05)" font-size="27.2" font-weight="bold" text-anchor="middle" fill="#231f20">Ctr</text>
<text transform="translate(1780.5,761.8) scale(1,1.05)" font-size="27.2" font-weight="bold" text-anchor="middle" fill="#231f20">Sen</text>
<line x1="1632.4" y1="771.7" x2="1717.7" y2="771.7" stroke="#231f20" stroke-width="2.2"/>
<line x1="1736.1" y1="771.7" x2="1821.3" y2="771.7" stroke="#231f20" stroke-width="2.2"/>
<text transform="translate(1650.7,795.9)" font-size="23" font-weight="bold" text-anchor="middle" fill="#231f20">NG</text>
<text transform="translate(1702.8,795.9)" font-size="23" font-weight="bold" text-anchor="middle" fill="#231f20">HG</text>
<text transform="translate(1755.6,795.9)" font-size="23" font-weight="bold" text-anchor="middle" fill="#231f20">NG</text>
<text transform="translate(1805.7,795.9)" font-size="23" font-weight="bold" text-anchor="middle" fill="#231f20">HG</text>
<clipPath id="cf1"><rect x="1632.9" y="808.2" width="195.8" height="47.1"/></clipPath>
<rect x="1632.9" y="808.2" width="195.8" height="47.1" fill="#e6e6e6"/>
<g clip-path="url(#cf1)">
<rect x="1674" y="803" width="12" height="56" rx="1.8" ry="28" fill="#fff" opacity="1" filter="url(#bl1_6)"/>
<rect x="1721.9" y="803" width="12" height="56" rx="1.8" ry="28" fill="#fff" opacity="1" filter="url(#bl1_6)"/>
<rect x="1770.9" y="803" width="13" height="56" rx="1.95" ry="28" fill="#fff" opacity="1" filter="url(#bl1_6)"/>
<rect x="1736.7" y="806" width="33" height="50" rx="4.95" ry="25" fill="#ccc" opacity="0.45" filter="url(#bl3)"/>
<rect x="1638" y="837.3" width="35" height="6" rx="3.6" ry="3" fill="#888" opacity="0.62" filter="url(#bl2_2)" transform="rotate(-5 1655.5 840.3)"/>
<rect x="1686.95" y="830.5" width="33.5" height="6.4" rx="3.84" ry="3.2" fill="#7a7a7a" opacity="0.68" filter="url(#bl2_2)" transform="rotate(-7 1703.7 833.7)"/>
<rect x="1735.45" y="826.25" width="35.5" height="9.5" rx="5.33" ry="4.75" fill="#484848" opacity="0.88" filter="url(#bl2_2)"/>
<rect x="1784.45" y="832.75" width="37.5" height="7.5" rx="4.5" ry="3.75" fill="#5a5a5a" opacity="0.78" filter="url(#bl2_2)" transform="rotate(8 1803.2 836.5)"/>
<rect x="1632.25" y="827.5" width="2.5" height="5" rx="0.38" ry="2.5" fill="#333" opacity="0.7" filter="url(#bl0_8)"/>
<rect x="1639.5" y="825.5" width="2" height="2" rx="1" ry="1" fill="#555" opacity="0.6" filter="url(#bl0_8)"/>
</g>
<rect x="1632.9" y="808.2" width="195.8" height="47.1" fill="none" stroke="#303030" stroke-width="1.7"/>
<clipPath id="cf2"><rect x="1632.9" y="863.1" width="195.8" height="46.6"/></clipPath>
<rect x="1632.9" y="863.1" width="195.8" height="46.6" fill="#c8c9c9"/>
<g clip-path="url(#cf2)">
<rect x="1642" y="887" width="35" height="14" rx="5.25" ry="7" fill="#555" opacity="0.3" filter="url(#bl3)"/>
<rect x="1689.3" y="887" width="33" height="14" rx="4.95" ry="7" fill="#555" opacity="0.3" filter="url(#bl3)"/>
<rect x="1734.6" y="888" width="35" height="16" rx="5.25" ry="8" fill="#444" opacity="0.4" filter="url(#bl3)"/>
<rect x="1779.8" y="888" width="37" height="16" rx="5.55" ry="8" fill="#444" opacity="0.4" filter="url(#bl3)"/>
<rect x="1639.25" y="876.3" width="40.5" height="12.6" rx="6.02" ry="6.3" fill="#060606" opacity="0.3" filter="url(#bl3)"/>
<rect x="1640.75" y="878.3" width="37.5" height="8.6" rx="5.16" ry="4.3" fill="#060606" opacity="0.96" filter="url(#bl1_6)"/>
<rect x="1686.55" y="876.4" width="38.5" height="12.4" rx="5.88" ry="6.2" fill="#151515" opacity="0.3" filter="url(#bl3)"/>
<rect x="1688.05" y="878.4" width="35.5" height="8.4" rx="5.04" ry="4.2" fill="#151515" opacity="0.92" filter="url(#bl1_6)"/>
<rect x="1732.35" y="875.75" width="39.5" height="15.5" rx="8.05" ry="7.75" fill="#0e0e0e" opacity="0.3" filter="url(#bl3)"/>
<rect x="1733.85" y="877.75" width="36.5" height="11.5" rx="5.47" ry="5.75" fill="#0e0e0e" opacity="0.94" filter="url(#bl1_6)"/>
<rect x="1777.45" y="876.5" width="41.7" height="15" rx="7.7" ry="7.5" fill="#111" opacity="0.3" filter="url(#bl3)"/>
<rect x="1778.95" y="878.5" width="38.7" height="11" rx="5.81" ry="5.5" fill="#111" opacity="0.93" filter="url(#bl1_6)"/>
</g>
<rect x="1632.9" y="863.1" width="195.8" height="46.6" fill="none" stroke="#303030" stroke-width="1.7"/>
<text transform="translate(1626,841.8) scale(1,1.05)" font-size="24.6" text-anchor="end" fill="#231f20">RIG-I</text>
<text transform="translate(1626,892) scale(1,1.05)" font-size="24.8" text-anchor="end" fill="#231f20">β-actin</text>
<text transform="translate(1834.9,840.9) scale(1,1.05)" font-size="24.6" fill="#231f20">101 kDa</text>
<text transform="translate(1834.9,892.7) scale(1,1.05)" font-size="24.6" fill="#231f20">42 kDa</text>
<line x1="1662.05" y1="1190.7" x2="1662.05" y2="1165.6" stroke="#000" stroke-width="1.7"/>
<line x1="1656.25" y1="1165.6" x2="1667.85" y2="1165.6" stroke="#000" stroke-width="1.7"/>
<rect x="1638.8" y="1190.7" width="46.5" height="74.2" fill="#fbb87d" stroke="#000" stroke-width="1.7"/>
<line x1="1662.05" y1="1264.9" x2="1662.05" y2="1276.4" stroke="#000" stroke-width="1.7"/>
<line x1="1718.4" y1="1183.4" x2="1718.4" y2="1140.3" stroke="#000" stroke-width="1.7"/>
<line x1="1712.6" y1="1140.3" x2="1724.2" y2="1140.3" stroke="#000" stroke-width="1.7"/>
<rect x="1695.3" y="1183.4" width="46.2" height="81.5" fill="#fbb87d" stroke="#000" stroke-width="1.7"/>
<line x1="1718.4" y1="1264.9" x2="1718.4" y2="1276.4" stroke="#000" stroke-width="1.7"/>
<line x1="1794.1" y1="1110.8" x2="1794.1" y2="1081.4" stroke="#000" stroke-width="1.7"/>
<line x1="1788.3" y1="1081.4" x2="1799.9" y2="1081.4" stroke="#000" stroke-width="1.7"/>
<rect x="1771" y="1110.8" width="46.2" height="154.1" fill="#b3b3dc" stroke="#000" stroke-width="1.7"/>
<line x1="1794.1" y1="1264.9" x2="1794.1" y2="1276.4" stroke="#000" stroke-width="1.7"/>
<line x1="1850.45" y1="1099.2" x2="1850.45" y2="1085.3" stroke="#000" stroke-width="1.7"/>
<line x1="1844.65" y1="1085.3" x2="1856.25" y2="1085.3" stroke="#000" stroke-width="1.7"/>
<rect x="1827.2" y="1099.2" width="46.5" height="165.7" fill="#b3b3dc" stroke="#000" stroke-width="1.7"/>
<line x1="1850.45" y1="1264.9" x2="1850.45" y2="1276.4" stroke="#000" stroke-width="1.7"/>
<line x1="1614.5" y1="980.75" x2="1614.5" y2="1265.75" stroke="#000" stroke-width="1.7"/>
<line x1="1603.3" y1="1264.9" x2="1898.6" y2="1264.9" stroke="#000" stroke-width="1.7"/>
<line x1="1603.3" y1="981.6" x2="1614.5" y2="981.6" stroke="#000" stroke-width="1.7"/>
<text transform="translate(1599.8,988.35)" font-size="17.3" text-anchor="end" fill="#000">1.5</text>
<line x1="1603.3" y1="1076" x2="1614.5" y2="1076" stroke="#000" stroke-width="1.7"/>
<text transform="translate(1599.8,1082.75)" font-size="17.3" text-anchor="end" fill="#000">1.0</text>
<line x1="1603.3" y1="1170.5" x2="1614.5" y2="1170.5" stroke="#000" stroke-width="1.7"/>
<text transform="translate(1599.8,1177.25)" font-size="17.3" text-anchor="end" fill="#000">0.5</text>
<line x1="1603.3" y1="1264.9" x2="1614.5" y2="1264.9" stroke="#000" stroke-width="1.7"/>
<text transform="translate(1599.8,1271.65)" font-size="17.3" text-anchor="end" fill="#000">0.0</text>
<text transform="translate(1662.05,1299.7) scale(1,1.05)" font-size="21.3" font-weight="bold" text-anchor="middle" fill="#000">NG</text>
<text transform="translate(1718.4,1299.7) scale(1,1.05)" font-size="21.3" font-weight="bold" text-anchor="middle" fill="#000">HG</text>
<text transform="translate(1794.1,1299.7) scale(1,1.05)" font-size="21.3" font-weight="bold" text-anchor="middle" fill="#000">NG</text>
<text transform="translate(1850.45,1299.7) scale(1,1.05)" font-size="21.3" font-weight="bold" text-anchor="middle" fill="#000">HG</text>
<path d="M1661.9 959.9 V946 H1850.4 V959.9" stroke="#000" stroke-width="1.7" fill="none"/>
<text transform="translate(1758.6,945.66)" font-size="32" font-weight="bold" text-anchor="middle" fill="#000">*</text>
<path d="M1717.7 1005.4 V987.2 H1850.4 V1064.6" stroke="#000" stroke-width="1.7" fill="none"/>
<text transform="translate(1786.6,989.46)" font-size="32" font-weight="bold" text-anchor="middle" fill="#000">*</text>
<path d="M1661.9 1157.1 V1046.8 H1794.6 V1075.5" stroke="#000" stroke-width="1.7" fill="none"/>
<text transform="translate(1728.9,1046.16)" font-size="32" font-weight="bold" text-anchor="middle" fill="#000">*</text>
<rect x="1896.9" y="947.2" width="31.6" height="14.7" fill="#fbb87d" stroke="#000" stroke-width="1.7"/>
<line x1="1896.9" y1="961.9" x2="1896.9" y2="963.95" stroke="#000" stroke-width="1.7"/>
<text transform="translate(1936.3,962.3) scale(1,1.05)" font-size="21.5" fill="#000">Ctr</text>
<rect x="1896.9" y="988.6" width="31.6" height="14.6" fill="#b3b3dc" stroke="#000" stroke-width="1.7"/>
<line x1="1896.9" y1="1003.2" x2="1896.9" y2="1005.25" stroke="#000" stroke-width="1.7"/>
<text transform="translate(1936.3,1000.6) scale(1,1.05)" font-size="21.5" fill="#000">Sen</text>
<text transform="translate(1560.9,1125.5) rotate(-90) scale(1,1.05)" font-size="24.6" font-weight="bold" text-anchor="middle" fill="#000">RIG-I/ β-actin ratio</text>
<text transform="translate(0.8,1267.7) scale(1,1.05)" font-size="48.3" font-weight="bold" fill="#231f20">G</text>
<line x1="193.45" y1="1592.3" x2="193.45" y2="1577.7" stroke="#000" stroke-width="1.7"/>
<line x1="187.25" y1="1577.7" x2="199.65" y2="1577.7" stroke="#000" stroke-width="1.7"/>
<rect x="168.1" y="1592.3" width="50.7" height="39.7" fill="#fbb87d" stroke="#000" stroke-width="1.7"/>
<line x1="193.45" y1="1632" x2="193.45" y2="1644.4" stroke="#000" stroke-width="1.7"/>
<line x1="255.35" y1="1598.2" x2="255.35" y2="1590.9" stroke="#000" stroke-width="1.7"/>
<line x1="249.15" y1="1590.9" x2="261.55" y2="1590.9" stroke="#000" stroke-width="1.7"/>
<rect x="230" y="1598.2" width="50.7" height="33.8" fill="#fbb87d" stroke="#000" stroke-width="1.7"/>
<line x1="255.35" y1="1632" x2="255.35" y2="1644.4" stroke="#000" stroke-width="1.7"/>
<line x1="337.85" y1="1432.1" x2="337.85" y2="1355" stroke="#000" stroke-width="1.7"/>
<line x1="331.65" y1="1355" x2="344.05" y2="1355" stroke="#000" stroke-width="1.7"/>
<rect x="312.5" y="1432.1" width="50.7" height="199.9" fill="#b3b3dc" stroke="#000" stroke-width="1.7"/>
<line x1="337.85" y1="1632" x2="337.85" y2="1644.4" stroke="#000" stroke-width="1.7"/>
<line x1="399.75" y1="1466.5" x2="399.75" y2="1388.5" stroke="#000" stroke-width="1.7"/>
<line x1="393.55" y1="1388.5" x2="405.95" y2="1388.5" stroke="#000" stroke-width="1.7"/>
<rect x="374.4" y="1466.5" width="50.7" height="165.5" fill="#b3b3dc" stroke="#000" stroke-width="1.7"/>
<line x1="399.75" y1="1632" x2="399.75" y2="1644.4" stroke="#000" stroke-width="1.7"/>
<line x1="141.6" y1="1321.75" x2="141.6" y2="1632.85" stroke="#000" stroke-width="1.7"/>
<line x1="128.9" y1="1632" x2="452.7" y2="1632" stroke="#000" stroke-width="1.7"/>
<line x1="128.9" y1="1322.6" x2="141.6" y2="1322.6" stroke="#000" stroke-width="1.7"/>
<text transform="translate(125.3,1329.97)" font-size="18.9" text-anchor="end" fill="#000">0.0008</text>
<line x1="128.9" y1="1400" x2="141.6" y2="1400" stroke="#000" stroke-width="1.7"/>
<text transform="translate(125.3,1407.37)" font-size="18.9" text-anchor="end" fill="#000">0.0006</text>
<line x1="128.9" y1="1476.9" x2="141.6" y2="1476.9" stroke="#000" stroke-width="1.7"/>
<text transform="translate(125.3,1484.27)" font-size="18.9" text-anchor="end" fill="#000">0.0004</text>
<line x1="128.9" y1="1554.3" x2="141.6" y2="1554.3" stroke="#000" stroke-width="1.7"/>
<text transform="translate(125.3,1561.67)" font-size="18.9" text-anchor="end" fill="#000">0.0002</text>
<line x1="128.9" y1="1632" x2="141.6" y2="1632" stroke="#000" stroke-width="1.7"/>
<text transform="translate(125.3,1639.37)" font-size="18.9" text-anchor="end" fill="#000">0.0000</text>
<text transform="translate(192.6,1669.8) scale(1,1.05)" font-size="22" font-weight="bold" text-anchor="middle" fill="#000">NG</text>
<text transform="translate(254.8,1669.8) scale(1,1.05)" font-size="22" font-weight="bold" text-anchor="middle" fill="#000">HG</text>
<text transform="translate(336.7,1669.8) scale(1,1.05)" font-size="22" font-weight="bold" text-anchor="middle" fill="#000">NG</text>
<text transform="translate(398.6,1669.8) scale(1,1.05)" font-size="22" font-weight="bold" text-anchor="middle" fill="#000">HG</text>
<path d="M193.1 1549.2 V1266.9 H339 V1283.8" stroke="#000" stroke-width="1.7" fill="none"/>
<text transform="translate(271.7,1264.79)" font-size="33" font-weight="bold" text-anchor="middle" fill="#000">*</text>
<path d="M253.9 1317.5 V1294.5 H336.4 V1317.5" stroke="#000" stroke-width="1.35" fill="none"/>
<text transform="translate(295.6,1299.19)" font-size="33" font-weight="bold" text-anchor="middle" fill="#000">*</text>
<path d="M255.1 1573.2 V1344.3 H399.8 V1375.5" stroke="#000" stroke-width="1.7" fill="none"/>
<text transform="translate(338.7,1349.29)" font-size="33" font-weight="bold" text-anchor="middle" fill="#000">*</text>
<rect x="403.2" y="1262.9" width="31.8" height="15.2" fill="#fbb87d" stroke="#000" stroke-width="1.7"/>
<line x1="403.2" y1="1278.1" x2="403.2" y2="1280.15" stroke="#000" stroke-width="1.7"/>
<text transform="translate(442.6,1279) scale(1,1.05)" font-size="21.5" fill="#000">Ctr</text>
<rect x="403.2" y="1304.6" width="31.8" height="15.2" fill="#b3b3dc" stroke="#000" stroke-width="1.7"/>
<line x1="403.2" y1="1319.8" x2="403.2" y2="1321.85" stroke="#000" stroke-width="1.7"/>
<text transform="translate(442.6,1317) scale(1,1.05)" font-size="21.5" fill="#000">Sen</text>
<text transform="translate(22,1478) rotate(-90) scale(1,1.05)" font-size="25" font-weight="bold" text-anchor="middle" fill="#000" word-spacing="-4.5">IRF7 mRNA</text>
<text transform="translate(50.7,1475.3) rotate(-90) scale(1,1.05)" font-size="25" font-weight="bold" text-anchor="middle" fill="#000">relative expression (a.u.)</text>
<text transform="translate(516.5,1267.7) scale(1,1.05)" font-size="48.3" font-weight="bold" fill="#231f20">H</text>
<line x1="745.3" y1="1557.8" x2="745.3" y2="1520.2" stroke="#000" stroke-width="1.7"/>
<line x1="738.1" y1="1520.2" x2="752.5" y2="1520.2" stroke="#000" stroke-width="1.7"/>
<rect x="715.6" y="1557.8" width="59.4" height="73.8" fill="#fbb87d" stroke="#000" stroke-width="1.7"/>
<line x1="745.3" y1="1631.6" x2="745.3" y2="1644.9" stroke="#000" stroke-width="1.7"/>
<line x1="818.05" y1="1550" x2="818.05" y2="1507.8" stroke="#000" stroke-width="1.7"/>
<line x1="810.85" y1="1507.8" x2="825.25" y2="1507.8" stroke="#000" stroke-width="1.7"/>
<rect x="788.3" y="1550" width="59.5" height="81.6" fill="#fbb87d" stroke="#000" stroke-width="1.7"/>
<line x1="818.05" y1="1631.6" x2="818.05" y2="1644.9" stroke="#000" stroke-width="1.7"/>
<line x1="890.75" y1="1457.3" x2="890.75" y2="1362.1" stroke="#000" stroke-width="1.7"/>
<line x1="883.55" y1="1362.1" x2="897.95" y2="1362.1" stroke="#000" stroke-width="1.7"/>
<rect x="861" y="1457.3" width="59.5" height="174.3" fill="#b3b3dc" stroke="#000" stroke-width="1.7"/>
<line x1="890.75" y1="1631.6" x2="890.75" y2="1644.9" stroke="#000" stroke-width="1.7"/>
<line x1="963.65" y1="1518.8" x2="963.65" y2="1461.4" stroke="#000" stroke-width="1.7"/>
<line x1="956.45" y1="1461.4" x2="970.85" y2="1461.4" stroke="#000" stroke-width="1.7"/>
<rect x="933.8" y="1518.8" width="59.7" height="112.8" fill="#b3b3dc" stroke="#000" stroke-width="1.7"/>
<line x1="963.65" y1="1631.6" x2="963.65" y2="1644.9" stroke="#000" stroke-width="1.7"/>
<line x1="684.7" y1="1290.85" x2="684.7" y2="1632.45" stroke="#000" stroke-width="1.7"/>
<line x1="670.9" y1="1631.6" x2="1025.8" y2="1631.6" stroke="#000" stroke-width="1.7"/>
<line x1="670.9" y1="1291.7" x2="684.7" y2="1291.7" stroke="#000" stroke-width="1.7"/>
<text transform="translate(666.8,1299.89)" font-size="21" text-anchor="end" fill="#000">0.000004</text>
<line x1="670.9" y1="1376.5" x2="684.7" y2="1376.5" stroke="#000" stroke-width="1.7"/>
<text transform="translate(666.8,1384.69)" font-size="21" text-anchor="end" fill="#000">0.000003</text>
<line x1="670.9" y1="1461.4" x2="684.7" y2="1461.4" stroke="#000" stroke-width="1.7"/>
<text transform="translate(666.8,1469.59)" font-size="21" text-anchor="end" fill="#000">0.000002</text>
<line x1="670.9" y1="1546.5" x2="684.7" y2="1546.5" stroke="#000" stroke-width="1.7"/>
<text transform="translate(666.8,1554.69)" font-size="21" text-anchor="end" fill="#000">0.000001</text>
<line x1="670.9" y1="1631.6" x2="684.7" y2="1631.6" stroke="#000" stroke-width="1.7"/>
<text transform="translate(666.8,1639.79)" font-size="21" text-anchor="end" fill="#000">0.000000</text>
<text transform="translate(742.4,1672) scale(1,1.05)" font-size="21.4" font-weight="bold" text-anchor="middle" fill="#000">NG</text>
<text transform="translate(814.6,1672) scale(1,1.05)" font-size="21.4" font-weight="bold" text-anchor="middle" fill="#000">HG</text>
<text transform="translate(884.1,1672) scale(1,1.05)" font-size="21.4" font-weight="bold" text-anchor="middle" fill="#000">NG</text>
<text transform="translate(960.9,1672) scale(1,1.05)" font-size="21.4" font-weight="bold" text-anchor="middle" fill="#000">HG</text>
<path d="M745.3 1500 V1321.7 H890.8 V1341.9" stroke="#000" stroke-width="1.35" fill="none"/>
<text transform="translate(820.9,1320.05)" font-size="35" font-weight="bold" text-anchor="middle" fill="#000">*</text>
<rect x="961.8" y="1328.6" width="31.1" height="15" fill="#fbb87d" stroke="#000" stroke-width="1.7"/>
<line x1="961.8" y1="1343.6" x2="961.8" y2="1345.65" stroke="#000" stroke-width="1.7"/>
<text transform="translate(1000.7,1344.2) scale(1,1.05)" font-size="21.5" fill="#000">Ctr</text>
<rect x="961.8" y="1369.9" width="31.1" height="15" fill="#b3b3dc" stroke="#000" stroke-width="1.7"/>
<line x1="961.8" y1="1384.9" x2="961.8" y2="1386.95" stroke="#000" stroke-width="1.7"/>
<text transform="translate(1000.7,1382.6) scale(1,1.05)" font-size="21.5" fill="#000">Sen</text>
<text transform="translate(529.7,1479.6) rotate(-90) scale(1,1.05)" font-size="24.4" font-weight="bold" text-anchor="middle" fill="#000">IFN-β mRNA</text>
<text transform="translate(560.6,1469.5) rotate(-90) scale(1,1.05)" font-size="24.55" font-weight="bold" text-anchor="middle" fill="#000">relative expression (a.u.)</text>
<text transform="translate(1084.5,1291.5) scale(1,1.05)" font-size="48.3" font-weight="bold" fill="#231f20">I</text>
<line x1="1263.95" y1="1438.6" x2="1263.95" y2="1373.1" stroke="#000" stroke-width="1.7"/>
<line x1="1257.75" y1="1373.1" x2="1270.15" y2="1373.1" stroke="#000" stroke-width="1.7"/>
<rect x="1237.1" y="1438.6" width="53.7" height="174.6" fill="#fbb87d" stroke="#000" stroke-width="1.7"/>
<line x1="1263.95" y1="1613.2" x2="1263.95" y2="1626" stroke="#000" stroke-width="1.7"/>
<line x1="1350.5" y1="1552.7" x2="1350.5" y2="1516.5" stroke="#000" stroke-width="1.7"/>
<line x1="1344.3" y1="1516.5" x2="1356.7" y2="1516.5" stroke="#000" stroke-width="1.7"/>
<rect x="1323.7" y="1552.7" width="53.6" height="60.5" fill="#b3b3dc" stroke="#000" stroke-width="1.7"/>
<line x1="1350.5" y1="1613.2" x2="1350.5" y2="1626" stroke="#000" stroke-width="1.7"/>
<line x1="1205.3" y1="1306.55" x2="1205.3" y2="1614.05" stroke="#000" stroke-width="1.7"/>
<line x1="1192.6" y1="1613.2" x2="1410.2" y2="1613.2" stroke="#000" stroke-width="1.7"/>
<line x1="1192.6" y1="1307.4" x2="1205.3" y2="1307.4" stroke="#000" stroke-width="1.7"/>
<text transform="translate(1185.9,1315.01)" font-size="19.5" text-anchor="end" fill="#000">200</text>
<line x1="1192.6" y1="1383.9" x2="1205.3" y2="1383.9" stroke="#000" stroke-width="1.7"/>
<text transform="translate(1185.9,1391.51)" font-size="19.5" text-anchor="end" fill="#000">150</text>
<line x1="1192.6" y1="1460.2" x2="1205.3" y2="1460.2" stroke="#000" stroke-width="1.7"/>
<text transform="translate(1185.9,1467.81)" font-size="19.5" text-anchor="end" fill="#000">100</text>
<line x1="1192.6" y1="1536.7" x2="1205.3" y2="1536.7" stroke="#000" stroke-width="1.7"/>
<text transform="translate(1185.9,1544.31)" font-size="19.5" text-anchor="end" fill="#000">50</text>
<line x1="1192.6" y1="1613.2" x2="1205.3" y2="1613.2" stroke="#000" stroke-width="1.7"/>
<text transform="translate(1185.9,1617.6)" font-size="19.5" text-anchor="end" fill="#000">0</text>
<text transform="translate(1261,1652.3) scale(1,1.05)" font-size="24.3" font-weight="bold" text-anchor="middle" fill="#000">Ctr</text>
<text transform="translate(1346.3,1652.3) scale(1,1.05)" font-size="24.3" font-weight="bold" text-anchor="middle" fill="#000">Sen</text>
<path d="M1261.7 1362.9 V1329.5 H1350.9 V1502.8" stroke="#000" stroke-width="1.7" fill="none"/>
<text transform="translate(1308,1330.35)" font-size="35" font-weight="bold" text-anchor="middle" fill="#000" letter-spacing="2.6">**</text>
<text transform="translate(1134.7,1448.2) rotate(-90) scale(1,1.05)" font-size="24.85" font-weight="bold" text-anchor="middle" fill="#000">m6A (a.u.)</text>
<text transform="translate(1618.8,1407.8) scale(1,1.05)" font-size="23.7" font-weight="bold" text-anchor="middle" fill="#231f20">Ctr</text>
<text transform="translate(1849.2,1407.8) scale(1,1.05)" font-size="23.7" font-weight="bold" text-anchor="middle" fill="#231f20">Sen</text>
<line x1="1520.5" y1="1420.1" x2="1718.8" y2="1420.1" stroke="#231f20" stroke-width="2.6"/>
<line x1="1749.1" y1="1420.1" x2="1947.3" y2="1420.1" stroke="#231f20" stroke-width="2.6"/>
<text transform="translate(1490.8,1487.9) scale(1,1.05)" font-size="20.7" text-anchor="end" fill="#231f20">1000 ng</text>
<text transform="translate(1490.8,1562.7) scale(1,1.05)" font-size="20.7" text-anchor="end" fill="#231f20">2000 ng</text>
<clipPath id="cd1"><rect x="1495.5" y="1430.3" width="470.8" height="179.3"/></clipPath>
<rect x="1495.5" y="1430.3" width="470.8" height="179.3" fill="#ebebeb"/>
<g clip-path="url(#cd1)">
<rect x="1470" y="1525" width="260" height="70" rx="39" ry="35" fill="#fff" opacity="0.35" filter="url(#bl4_5)"/>
<rect x="1700" y="1490" width="200" height="60" rx="30" ry="30" fill="#fff" opacity="0.3" filter="url(#bl4_5)"/>
<rect x="1500" y="1410" width="60" height="120" rx="9" ry="60" fill="#ddd" opacity="0.5" filter="url(#bl4_5)"/>
<rect x="1915" y="1430" width="50" height="140" rx="7.5" ry="70" fill="#ddd" opacity="0.5" filter="url(#bl4_5)"/>
<rect x="1545.6" y="1466.1" width="29" height="29" rx="14.5" ry="14.5" fill="#b4b4b4" opacity="0.62" filter="url(#bl1_6)"/>
<rect x="1617" y="1466.1" width="29" height="29" rx="14.5" ry="14.5" fill="#6e6e6e" opacity="0.85" filter="url(#bl1_6)"/>
<rect x="1688.3" y="1466.1" width="29" height="29" rx="14.5" ry="14.5" fill="#808080" opacity="0.8" filter="url(#bl1_6)"/>
<rect x="1761.1" y="1466.1" width="29" height="29" rx="14.5" ry="14.5" fill="#a6a6a6" opacity="0.6" filter="url(#bl1_6)"/>
<rect x="1833" y="1466.1" width="29" height="29" rx="14.5" ry="14.5" fill="#c4c4c4" opacity="0.55" filter="url(#bl1_6)"/>
<rect x="1905.8" y="1466.1" width="29" height="29" rx="14.5" ry="14.5" fill="#c4c4c4" opacity="0.55" filter="url(#bl1_6)"/>
<rect x="1545.1" y="1535.5" width="30" height="30" rx="15" ry="15" fill="#777" opacity="0.85" filter="url(#bl1_6)"/>
<rect x="1616.5" y="1535.5" width="30" height="30" rx="15" ry="15" fill="#0a0a0a" opacity="0.97" filter="url(#bl1_6)"/>
<rect x="1687.8" y="1536" width="30" height="30" rx="15" ry="15" fill="#2e2e2e" opacity="0.93" filter="url(#bl1_6)"/>
<rect x="1760.6" y="1536" width="30" height="30" rx="15" ry="15" fill="#b8b8b8" opacity="0.6" filter="url(#bl1_6)"/>
<rect x="1832.5" y="1536" width="30" height="30" rx="15" ry="15" fill="#b8b8b8" opacity="0.6" filter="url(#bl1_6)"/>
<rect x="1905.3" y="1536" width="30" height="30" rx="15" ry="15" fill="#b0b0b0" opacity="0.62" filter="url(#bl1_6)"/>
<circle cx="1775.6" cy="1480.6" r="12.8" fill="none" stroke="#777" stroke-width="2.4" opacity="0.3" filter="url(#bl1_2)"/><circle cx="1847.5" cy="1480.6" r="12.8" fill="none" stroke="#999" stroke-width="2.4" opacity="0.3" filter="url(#bl1_2)"/><circle cx="1920.3" cy="1480.6" r="12.8" fill="none" stroke="#999" stroke-width="2.4" opacity="0.33" filter="url(#bl1_2)"/><circle cx="1560.1" cy="1550.5" r="12.8" fill="none" stroke="#333" stroke-width="2.4" opacity="0.45" filter="url(#bl1_2)"/><circle cx="1775.6" cy="1551" r="12.8" fill="none" stroke="#888" stroke-width="2.4" opacity="0.33" filter="url(#bl1_2)"/><circle cx="1847.5" cy="1551" r="12.8" fill="none" stroke="#999" stroke-width="2.4" opacity="0.3" filter="url(#bl1_2)"/><circle cx="1920.3" cy="1551" r="12.8" fill="none" stroke="#999" stroke-width="2.4" opacity="0.28" filter="url(#bl1_2)"/><circle cx="1560.1" cy="1480.6" r="12.8" fill="none" stroke="#999" stroke-width="2.4" opacity="0.2" filter="url(#bl1_2)"/><circle cx="1617.77" cy="1480.05" r="2.6" fill="#050505" opacity="0.95" filter="url(#bl0_8)"/><circle cx="1641.64" cy="1481.51" r="3.2" fill="#050505" opacity="0.95" filter="url(#bl0_8)"/><circle cx="1763.05" cy="1480.63" r="2.2" fill="#050505" opacity="0.95" filter="url(#bl0_8)"/><circle cx="1795.07" cy="1478.3" r="2" fill="#050505" opacity="0.95" filter="url(#bl0_8)"/><circle cx="1840.49" cy="1489.37" r="2.6" fill="#050505" opacity="0.9" filter="url(#bl0_8)"/><circle cx="1549.94" cy="1545.56" r="3" fill="#050505" opacity="0.85" filter="url(#bl0_8)"/><circle cx="1552.85" cy="1560.7" r="2.8" fill="#050505" opacity="0.85" filter="url(#bl0_8)"/><circle cx="1932.78" cy="1549.05" r="2.6" fill="#050505" opacity="0.95" filter="url(#bl0_8)"/><circle cx="1921.14" cy="1493.73" r="3.5" fill="#050505" opacity="0.35" filter="url(#bl0_8)"/><circle cx="1702.78" cy="1546.14" r="4" fill="#050505" opacity="0.5" filter="url(#bl0_8)"/><circle cx="1630" cy="1540.32" r="6" fill="#050505" opacity="0.6" filter="url(#bl0_8)"/><circle cx="1621.26" cy="1556.33" r="5" fill="#050505" opacity="0.5" filter="url(#bl0_8)"/><circle cx="1515" cy="1587.77" r="1.8" fill="#222" opacity="0.7" filter="url(#bl0_8)"/><circle cx="1649.8" cy="1586.02" r="1.6" fill="#222" opacity="0.55" filter="url(#bl0_8)"/><circle cx="1669.3" cy="1595.63" r="1.4" fill="#222" opacity="0.6" filter="url(#bl0_8)"/><circle cx="1724.62" cy="1586.02" r="2.2" fill="#222" opacity="0.45" filter="url(#bl0_8)"/><circle cx="1747.91" cy="1600" r="1.8" fill="#222" opacity="0.4" filter="url(#bl0_8)"/><circle cx="1892.02" cy="1459.67" r="2.4" fill="#222" opacity="0.6" filter="url(#bl0_8)"/><circle cx="1781.39" cy="1434.63" r="2" fill="#222" opacity="0.45" filter="url(#bl0_8)"/><circle cx="1835.25" cy="1438.42" r="1.6" fill="#222" opacity="0.4" filter="url(#bl0_8)"/><circle cx="1731.9" cy="1450.06" r="2" fill="#222" opacity="0.4" filter="url(#bl0_8)"/><circle cx="1580.51" cy="1442.78" r="2.4" fill="#222" opacity="0.35" filter="url(#bl0_8)"/><circle cx="1826.52" cy="1448.61" r="1.6" fill="#222" opacity="0.4" filter="url(#bl0_8)"/><circle cx="1755.77" cy="1503.92" r="1.6" fill="#222" opacity="0.35" filter="url(#bl0_8)"/><circle cx="1600.89" cy="1529.25" r="1.5" fill="#222" opacity="0.35" filter="url(#bl0_8)"/><circle cx="1517.91" cy="1538.86" r="1.4" fill="#222" opacity="0.4" filter="url(#bl0_8)"/><circle cx="1520.82" cy="1575.25" r="1.5" fill="#222" opacity="0.35" filter="url(#bl0_8)"/><circle cx="1647.47" cy="1528.67" r="1.4" fill="#222" opacity="0.3" filter="url(#bl0_8)"/><circle cx="1743.54" cy="1471.9" r="1.3" fill="#222" opacity="0.35" filter="url(#bl0_8)"/><circle cx="1515" cy="1460.83" r="1.6" fill="#222" opacity="0.3" filter="url(#bl0_8)"/><circle cx="1756.64" cy="1583.99" r="1.5" fill="#222" opacity="0.35" filter="url(#bl0_8)"/><circle cx="1935.11" cy="1445.7" r="1.4" fill="#222" opacity="0.3" filter="url(#bl0_8)"/><circle cx="1961.9" cy="1480.63" r="2.2" fill="#222" opacity="0.3" filter="url(#bl0_8)"/><circle cx="1558.67" cy="1533.04" r="1.2" fill="#222" opacity="0.4" filter="url(#bl0_8)"/><circle cx="1941.52" cy="1595.63" r="1.3" fill="#222" opacity="0.3" filter="url(#bl0_8)"/><circle cx="1953.16" cy="1601.45" r="1.3" fill="#222" opacity="0.3" filter="url(#bl0_8)"/><circle cx="1536.83" cy="1519.94" r="1.5" fill="#222" opacity="0.3" filter="url(#bl0_8)"/><circle cx="1649.36" cy="1458.95" r="1.26" fill="#222" opacity="0.13" filter="url(#bl0_8)"/><circle cx="1747.83" cy="1496.47" r="0.84" fill="#222" opacity="0.2" filter="url(#bl0_8)"/><circle cx="1516.4" cy="1508.35" r="0.85" fill="#222" opacity="0.13" filter="url(#bl0_8)"/><circle cx="1696.12" cy="1577.03" r="0.89" fill="#222" opacity="0.16" filter="url(#bl0_8)"/><circle cx="1790.34" cy="1598.14" r="1.2" fill="#222" opacity="0.18" filter="url(#bl0_8)"/><circle cx="1952.33" cy="1440.73" r="1.4" fill="#222" opacity="0.17" filter="url(#bl0_8)"/><circle cx="1565.97" cy="1453.17" r="1.02" fill="#222" opacity="0.25" filter="url(#bl0_8)"/><circle cx="1582.91" cy="1534.19" r="1.25" fill="#222" opacity="0.18" filter="url(#bl0_8)"/><circle cx="1753.34" cy="1443.56" r="0.84" fill="#222" opacity="0.15" filter="url(#bl0_8)"/><circle cx="1814.94" cy="1507.29" r="1.02" fill="#222" opacity="0.21" filter="url(#bl0_8)"/><circle cx="1709.43" cy="1484.96" r="1.36" fill="#222" opacity="0.23" filter="url(#bl0_8)"/><circle cx="1612.34" cy="1532.94" r="1.17" fill="#222" opacity="0.26" filter="url(#bl0_8)"/><circle cx="1837.72" cy="1482.89" r="1.49" fill="#222" opacity="0.14" filter="url(#bl0_8)"/><circle cx="1693.15" cy="1564.85" r="0.91" fill="#222" opacity="0.2" filter="url(#bl0_8)"/><circle cx="1517.19" cy="1549.32" r="1.34" fill="#222" opacity="0.21" filter="url(#bl0_8)"/><circle cx="1905.53" cy="1487.4" r="1.29" fill="#222" opacity="0.22" filter="url(#bl0_8)"/><circle cx="1768.27" cy="1512.29" r="1.39" fill="#222" opacity="0.27" filter="url(#bl0_8)"/><circle cx="1719.14" cy="1548.61" r="0.84" fill="#222" opacity="0.23" filter="url(#bl0_8)"/><circle cx="1799.49" cy="1606.07" r="1.38" fill="#222" opacity="0.17" filter="url(#bl0_8)"/><circle cx="1678.13" cy="1549.4" r="0.82" fill="#222" opacity="0.19" filter="url(#bl0_8)"/><circle cx="1577.02" cy="1453.05" r="0.84" fill="#222" opacity="0.24" filter="url(#bl0_8)"/><circle cx="1559.05" cy="1475.85" r="1.07" fill="#222" opacity="0.26" filter="url(#bl0_8)"/><circle cx="1536.41" cy="1511.06" r="1.18" fill="#222" opacity="0.26" filter="url(#bl0_8)"/><circle cx="1879.43" cy="1583.52" r="0.99" fill="#222" opacity="0.19" filter="url(#bl0_8)"/><circle cx="1665.59" cy="1587.05" r="1.47" fill="#222" opacity="0.14" filter="url(#bl0_8)"/><circle cx="1580.82" cy="1473.11" r="0.96" fill="#222" opacity="0.2" filter="url(#bl0_8)"/><circle cx="1772.56" cy="1478.49" r="0.8" fill="#222" opacity="0.19" filter="url(#bl0_8)"/><circle cx="1670.46" cy="1531.52" r="1.47" fill="#222" opacity="0.23" filter="url(#bl0_8)"/><circle cx="1738.36" cy="1540.48" r="1.27" fill="#222" opacity="0.13" filter="url(#bl0_8)"/><circle cx="1916.7" cy="1568.84" r="1.41" fill="#222" opacity="0.25" filter="url(#bl0_8)"/><circle cx="1681.19" cy="1502.29" r="0.87" fill="#222" opacity="0.22" filter="url(#bl0_8)"/><circle cx="1527.89" cy="1444.36" r="0.95" fill="#222" opacity="0.15" filter="url(#bl0_8)"/><circle cx="1656.9" cy="1441.78" r="0.8" fill="#222" opacity="0.14" filter="url(#bl0_8)"/><circle cx="1546.1" cy="1496.11" r="0.82" fill="#222" opacity="0.26" filter="url(#bl0_8)"/><circle cx="1784.14" cy="1458.54" r="0.98" fill="#222" opacity="0.18" filter="url(#bl0_8)"/><circle cx="1668.09" cy="1454.05" r="1.39" fill="#222" opacity="0.28" filter="url(#bl0_8)"/><circle cx="1715.38" cy="1517.11" r="0.86" fill="#222" opacity="0.14" filter="url(#bl0_8)"/><circle cx="1658.09" cy="1478.84" r="1.38" fill="#222" opacity="0.15" filter="url(#bl0_8)"/><circle cx="1509.71" cy="1598.72" r="1.17" fill="#222" opacity="0.14" filter="url(#bl0_8)"/><circle cx="1751.22" cy="1437.32" r="1.17" fill="#222" opacity="0.28" filter="url(#bl0_8)"/><ellipse cx="1908.91" cy="1434.34" rx="8" ry="1.8" fill="#222" opacity="0.6" filter="url(#bl0_8)"/><ellipse cx="1519.37" cy="1509.75" rx="12" ry="14" fill="#999" opacity="0.12" filter="url(#bl3)"/>
</g>
<rect x="1495.5" y="1430.3" width="470.8" height="179.3" fill="none" stroke="#0a0a0a" stroke-width="1.8"/>
</svg>
</body></html>
